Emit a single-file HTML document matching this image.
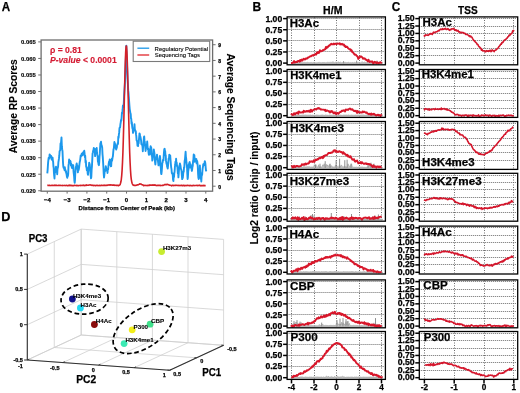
<!DOCTYPE html>
<html><head><meta charset="utf-8"><style>
html,body{margin:0;padding:0;background:#fff;width:520px;height:393px;overflow:hidden;}
svg{display:block;}
text{font-family:"Liberation Sans", sans-serif;}
svg{will-change:transform;}

</style></head><body>
<svg width="520" height="393" viewBox="0 0 520 393" font-family='"Liberation Sans", sans-serif'>
<rect width="520" height="393" fill="#fff"/>
<rect x="41.1" y="40.0" width="171.50" height="151.20" fill="none" stroke="#6e6e6e" stroke-width="1.3"/>
<line x1="38.20" y1="41.90" x2="41.10" y2="41.90" stroke="#6e6e6e" stroke-width="1"/>
<text x="21.07" y="44.20" font-size="5.0" stroke="#000" stroke-width="0.12" font-weight="bold" textLength="14.59" lengthAdjust="spacingAndGlyphs">0.065</text>
<line x1="38.20" y1="58.44" x2="41.10" y2="58.44" stroke="#6e6e6e" stroke-width="1"/>
<text x="21.07" y="60.74" font-size="5.0" stroke="#000" stroke-width="0.12" font-weight="bold" textLength="14.67" lengthAdjust="spacingAndGlyphs">0.060</text>
<line x1="38.20" y1="74.98" x2="41.10" y2="74.98" stroke="#6e6e6e" stroke-width="1"/>
<text x="21.07" y="77.28" font-size="5.0" stroke="#000" stroke-width="0.12" font-weight="bold" textLength="14.59" lengthAdjust="spacingAndGlyphs">0.055</text>
<line x1="38.20" y1="91.52" x2="41.10" y2="91.52" stroke="#6e6e6e" stroke-width="1"/>
<text x="21.07" y="93.82" font-size="5.0" stroke="#000" stroke-width="0.12" font-weight="bold" textLength="14.67" lengthAdjust="spacingAndGlyphs">0.050</text>
<line x1="38.20" y1="108.06" x2="41.10" y2="108.06" stroke="#6e6e6e" stroke-width="1"/>
<text x="21.07" y="110.36" font-size="5.0" stroke="#000" stroke-width="0.12" font-weight="bold" textLength="14.59" lengthAdjust="spacingAndGlyphs">0.045</text>
<line x1="38.20" y1="124.60" x2="41.10" y2="124.60" stroke="#6e6e6e" stroke-width="1"/>
<text x="21.07" y="126.90" font-size="5.0" stroke="#000" stroke-width="0.12" font-weight="bold" textLength="14.67" lengthAdjust="spacingAndGlyphs">0.040</text>
<line x1="38.20" y1="141.14" x2="41.10" y2="141.14" stroke="#6e6e6e" stroke-width="1"/>
<text x="21.07" y="143.44" font-size="5.0" stroke="#000" stroke-width="0.12" font-weight="bold" textLength="14.59" lengthAdjust="spacingAndGlyphs">0.035</text>
<line x1="38.20" y1="157.68" x2="41.10" y2="157.68" stroke="#6e6e6e" stroke-width="1"/>
<text x="21.07" y="159.98" font-size="5.0" stroke="#000" stroke-width="0.12" font-weight="bold" textLength="14.67" lengthAdjust="spacingAndGlyphs">0.030</text>
<line x1="38.20" y1="174.22" x2="41.10" y2="174.22" stroke="#6e6e6e" stroke-width="1"/>
<text x="21.07" y="176.52" font-size="5.0" stroke="#000" stroke-width="0.12" font-weight="bold" textLength="14.59" lengthAdjust="spacingAndGlyphs">0.025</text>
<line x1="38.20" y1="190.76" x2="41.10" y2="190.76" stroke="#6e6e6e" stroke-width="1"/>
<text x="21.07" y="193.06" font-size="5.0" stroke="#000" stroke-width="0.12" font-weight="bold" textLength="14.67" lengthAdjust="spacingAndGlyphs">0.020</text>
<line x1="212.60" y1="186.20" x2="215.60" y2="186.20" stroke="#6e6e6e" stroke-width="1"/>
<text x="218.20" y="188.60" font-size="5.0" stroke="#000" stroke-width="0.25" font-weight="bold">0</text>
<line x1="212.60" y1="170.48" x2="215.60" y2="170.48" stroke="#6e6e6e" stroke-width="1"/>
<text x="218.20" y="172.88" font-size="5.0" stroke="#000" stroke-width="0.25" font-weight="bold">1</text>
<line x1="212.60" y1="154.76" x2="215.60" y2="154.76" stroke="#6e6e6e" stroke-width="1"/>
<text x="218.20" y="157.16" font-size="5.0" stroke="#000" stroke-width="0.25" font-weight="bold">2</text>
<line x1="212.60" y1="139.04" x2="215.60" y2="139.04" stroke="#6e6e6e" stroke-width="1"/>
<text x="218.20" y="141.44" font-size="5.0" stroke="#000" stroke-width="0.25" font-weight="bold">3</text>
<line x1="212.60" y1="123.32" x2="215.60" y2="123.32" stroke="#6e6e6e" stroke-width="1"/>
<text x="218.20" y="125.72" font-size="5.0" stroke="#000" stroke-width="0.25" font-weight="bold">4</text>
<line x1="212.60" y1="107.60" x2="215.60" y2="107.60" stroke="#6e6e6e" stroke-width="1"/>
<text x="218.20" y="110.00" font-size="5.0" stroke="#000" stroke-width="0.25" font-weight="bold">5</text>
<line x1="212.60" y1="91.88" x2="215.60" y2="91.88" stroke="#6e6e6e" stroke-width="1"/>
<text x="218.20" y="94.28" font-size="5.0" stroke="#000" stroke-width="0.25" font-weight="bold">6</text>
<line x1="212.60" y1="76.16" x2="215.60" y2="76.16" stroke="#6e6e6e" stroke-width="1"/>
<text x="218.20" y="78.56" font-size="5.0" stroke="#000" stroke-width="0.25" font-weight="bold">7</text>
<line x1="212.60" y1="60.44" x2="215.60" y2="60.44" stroke="#6e6e6e" stroke-width="1"/>
<text x="218.20" y="62.84" font-size="5.0" stroke="#000" stroke-width="0.25" font-weight="bold">8</text>
<line x1="212.60" y1="44.72" x2="215.60" y2="44.72" stroke="#6e6e6e" stroke-width="1"/>
<text x="218.20" y="47.12" font-size="5.0" stroke="#000" stroke-width="0.25" font-weight="bold">9</text>
<line x1="47.30" y1="191.20" x2="47.30" y2="193.60" stroke="#6e6e6e" stroke-width="1"/>
<text x="47.30" y="202.20" font-size="6.0" stroke="#000" stroke-width="0.25" font-weight="bold" text-anchor="middle">−4</text>
<line x1="67.11" y1="191.20" x2="67.11" y2="193.60" stroke="#6e6e6e" stroke-width="1"/>
<text x="67.11" y="202.20" font-size="6.0" stroke="#000" stroke-width="0.25" font-weight="bold" text-anchor="middle">−3</text>
<line x1="86.92" y1="191.20" x2="86.92" y2="193.60" stroke="#6e6e6e" stroke-width="1"/>
<text x="86.92" y="202.20" font-size="6.0" stroke="#000" stroke-width="0.25" font-weight="bold" text-anchor="middle">−2</text>
<line x1="106.73" y1="191.20" x2="106.73" y2="193.60" stroke="#6e6e6e" stroke-width="1"/>
<text x="106.73" y="202.20" font-size="6.0" stroke="#000" stroke-width="0.25" font-weight="bold" text-anchor="middle">−1</text>
<line x1="126.54" y1="191.20" x2="126.54" y2="193.60" stroke="#6e6e6e" stroke-width="1"/>
<text x="126.54" y="202.20" font-size="6.0" stroke="#000" stroke-width="0.25" font-weight="bold" text-anchor="middle">0</text>
<line x1="146.35" y1="191.20" x2="146.35" y2="193.60" stroke="#6e6e6e" stroke-width="1"/>
<text x="146.35" y="202.20" font-size="6.0" stroke="#000" stroke-width="0.25" font-weight="bold" text-anchor="middle">1</text>
<line x1="166.16" y1="191.20" x2="166.16" y2="193.60" stroke="#6e6e6e" stroke-width="1"/>
<text x="166.16" y="202.20" font-size="6.0" stroke="#000" stroke-width="0.25" font-weight="bold" text-anchor="middle">2</text>
<line x1="185.97" y1="191.20" x2="185.97" y2="193.60" stroke="#6e6e6e" stroke-width="1"/>
<text x="185.97" y="202.20" font-size="6.0" stroke="#000" stroke-width="0.25" font-weight="bold" text-anchor="middle">3</text>
<line x1="205.78" y1="191.20" x2="205.78" y2="193.60" stroke="#6e6e6e" stroke-width="1"/>
<text x="205.78" y="202.20" font-size="6.0" stroke="#000" stroke-width="0.25" font-weight="bold" text-anchor="middle">4</text>
<text x="78.60" y="210.20" font-size="6.0" stroke="#000" stroke-width="0.25" font-weight="bold" textLength="96.40" lengthAdjust="spacingAndGlyphs">Distance from Center of Peak (kb)</text>
<text x="17.00" y="153.15" font-size="10" stroke="#000" stroke-width="0.1" font-weight="bold" textLength="93.77" lengthAdjust="spacingAndGlyphs" transform="rotate(-90 17.00 153.15)">Average RP Scores</text>
<text x="226.60" y="53.55" font-size="10" stroke="#000" stroke-width="0.1" font-weight="bold" textLength="127.07" lengthAdjust="spacingAndGlyphs" transform="rotate(90 226.60 53.55)">Average Sequencing Tags</text>
<polyline points="47.30,173.40 47.57,170.62 47.85,166.54 48.12,162.39 48.40,159.82 48.70,157.69 49.00,157.94 49.30,158.54 49.60,154.46 49.90,154.71 50.20,156.81 50.50,157.06 50.80,157.12 51.10,156.00 51.40,157.98 51.70,159.68 52.00,157.24 52.30,159.19 52.60,157.65 52.87,160.60 53.13,161.80 53.40,166.25 53.67,167.75 53.95,173.11 54.23,175.99 54.50,178.52 54.80,172.35 55.10,172.64 55.40,170.70 55.70,168.27 56.00,166.72 56.30,169.22 56.60,169.39 56.90,170.57 57.20,174.29 57.50,169.05 57.80,167.77 58.10,166.71 58.40,162.06 58.70,160.33 59.00,158.23 59.30,155.72 59.60,151.34 59.90,150.85 60.20,150.34 60.53,143.50 60.85,144.64 61.17,141.05 61.50,137.44 61.83,146.23 62.17,149.21 62.50,151.10 62.77,157.58 63.03,162.90 63.30,166.32 63.60,167.92 63.90,167.10 64.20,168.50 64.50,169.96 64.80,167.09 65.10,169.62 65.40,169.85 65.70,171.95 66.00,171.20 66.30,173.33 66.62,174.53 66.94,176.79 67.26,177.78 67.58,174.69 67.90,176.11 68.20,173.87 68.50,165.51 68.80,163.41 69.10,159.55 69.40,162.05 69.70,161.65 70.00,160.59 70.30,160.99 70.60,161.62 70.90,165.51 71.20,163.80 71.50,165.20 71.80,167.41 72.10,167.92 72.38,167.23 72.65,165.28 72.92,166.36 73.20,165.13 73.50,171.07 73.80,173.82 74.10,176.32 74.40,180.88 74.70,182.89 74.97,180.38 75.23,174.19 75.50,170.48 75.80,166.90 76.10,168.60 76.40,164.79 76.70,163.51 77.00,165.34 77.30,165.53 77.60,168.21 77.90,172.41 78.20,168.87 78.50,170.26 78.82,169.21 79.13,167.34 79.45,164.04 79.77,161.69 80.08,160.75 80.40,158.18 80.72,155.35 81.03,156.28 81.35,155.95 81.67,153.82 81.98,155.29 82.30,153.11 82.62,155.40 82.94,153.77 83.26,153.15 83.58,151.67 83.90,151.92 84.23,150.64 84.57,153.47 84.90,157.24 85.22,155.79 85.54,162.53 85.86,160.92 86.18,166.96 86.50,166.83 86.80,170.19 87.10,170.14 87.40,168.55 87.70,173.65 88.00,174.86 88.30,170.46 88.60,168.01 88.90,166.04 89.20,162.68 89.50,163.65 89.80,164.85 90.10,169.24 90.40,171.79 90.70,175.70 91.00,178.38 91.32,177.01 91.64,169.71 91.96,166.21 92.28,159.60 92.60,153.36 92.90,152.43 93.20,150.61 93.50,149.99 93.80,147.94 94.12,149.33 94.45,148.98 94.77,151.11 95.10,156.08 95.42,151.02 95.75,148.87 96.08,149.38 96.40,149.41 96.70,147.97 97.00,152.69 97.30,154.90 97.60,156.06 97.92,161.70 98.25,162.46 98.58,164.51 98.90,165.17 99.20,162.75 99.50,157.02 99.80,153.39 100.10,147.70 100.40,143.31 100.70,142.90 101.00,141.66 101.30,144.38 101.60,145.41 101.90,146.32 102.20,147.74 102.50,154.11 102.80,157.38 103.10,162.27 103.40,167.20 103.70,173.60 104.00,177.52 104.30,175.37 104.60,172.25 104.90,169.33 105.20,171.12 105.50,169.45 105.80,166.09 106.09,167.84 106.37,168.93 106.66,169.73 106.94,170.60 107.23,169.26 107.51,172.94 107.80,169.53 108.12,169.52 108.45,165.79 108.77,163.19 109.10,161.52 109.40,162.19 109.70,159.52 110.00,159.97 110.30,164.99 110.60,163.51 110.90,166.28 111.19,166.12 111.47,160.95 111.76,158.81 112.04,160.92 112.33,159.15 112.61,157.27 112.90,156.26 113.20,152.58 113.50,149.26 113.80,148.95 114.10,145.41 114.40,142.07 114.70,142.96 115.00,143.89 115.30,146.37 115.60,146.06 115.90,148.33 116.20,149.60 116.50,148.07 116.80,147.99 117.10,144.83 117.40,144.83 117.70,143.11 118.00,143.94 118.30,136.69 118.60,138.00 118.90,134.42 119.20,132.41 119.50,128.14 119.80,127.51 120.10,127.39 120.40,124.23 120.70,122.55 121.00,120.06 121.32,120.71 121.64,117.43 121.96,112.64 122.28,113.38 122.60,109.95 122.90,105.47 123.20,107.00 123.50,107.25 123.80,102.77 124.12,95.27 124.45,89.94 124.77,85.67 125.10,80.00 125.40,71.40 125.70,62.80 126.00,54.20 126.30,45.60 126.62,54.20 126.95,62.80 127.27,71.40 127.60,80.00 127.90,84.22 128.20,90.13 128.50,92.89 128.80,96.94 129.10,101.00 129.40,105.36 129.72,109.03 130.05,111.18 130.38,113.20 130.70,113.84 130.99,118.35 131.27,118.75 131.56,123.60 131.84,122.24 132.13,126.12 132.41,128.50 132.70,128.71 133.00,132.87 133.30,132.06 133.60,128.75 133.90,130.19 134.20,129.18 134.50,124.28 134.83,129.51 135.17,129.97 135.50,131.12 135.78,131.28 136.05,134.40 136.32,136.43 136.60,140.38 136.90,140.72 137.20,141.83 137.50,145.75 137.80,144.25 138.10,146.12 138.38,141.11 138.66,143.33 138.94,139.57 139.22,136.64 139.50,133.40 139.82,134.21 140.14,136.00 140.46,136.94 140.78,138.65 141.10,140.68 141.38,144.23 141.67,144.17 141.95,144.61 142.23,145.20 142.52,146.48 142.80,151.20 143.08,147.10 143.36,143.98 143.64,140.90 143.92,137.30 144.20,136.40 144.48,140.67 144.76,141.63 145.04,144.74 145.32,147.61 145.60,150.96 145.92,146.79 146.24,147.21 146.56,144.66 146.88,145.65 147.20,141.54 147.48,145.60 147.77,149.05 148.05,148.33 148.33,149.93 148.62,153.15 148.90,154.90 149.19,152.24 149.47,153.25 149.76,154.41 150.04,149.83 150.33,148.74 150.61,146.30 150.90,147.18 151.18,147.29 151.46,149.96 151.74,156.00 152.02,155.18 152.30,160.62 152.60,159.45 152.90,155.71 153.20,154.31 153.50,154.57 153.80,149.50 154.12,151.57 154.44,153.09 154.76,157.84 155.08,162.66 155.40,164.54 155.72,160.05 156.04,158.54 156.36,157.42 156.68,156.98 157.00,154.59 157.30,157.26 157.60,159.43 157.90,160.57 158.20,163.00 158.50,165.41 158.78,163.13 159.06,162.18 159.34,162.39 159.62,158.63 159.90,155.98 160.20,158.22 160.50,166.18 160.80,167.53 161.10,173.19 161.40,174.14 161.70,171.48 162.00,167.76 162.30,162.97 162.60,162.54 162.89,160.04 163.17,159.97 163.46,160.36 163.74,155.25 164.03,151.72 164.31,149.09 164.60,148.72 164.88,150.57 165.16,151.15 165.44,155.09 165.72,155.23 166.00,160.67 166.28,162.29 166.57,164.03 166.85,163.39 167.13,166.57 167.42,167.30 167.70,168.62 168.02,165.83 168.34,161.53 168.66,158.45 168.98,158.95 169.30,154.61 169.60,156.26 169.90,158.47 170.20,155.40 170.52,159.75 170.85,164.11 171.18,167.36 171.50,169.13 171.82,173.03 172.13,173.58 172.45,173.23 172.77,175.44 173.08,179.82 173.40,181.10 173.70,174.88 174.00,177.07 174.30,173.27 174.60,171.72 174.90,166.98 175.20,164.98 175.50,161.59 175.80,164.95 176.10,158.74 176.40,163.68 176.70,162.63 177.00,166.15 177.30,165.69 177.58,169.53 177.85,173.48 178.12,172.02 178.40,177.41 178.70,173.87 179.00,169.35 179.30,167.73 179.60,165.35 179.90,163.53 180.22,164.62 180.54,166.00 180.86,168.60 181.18,169.34 181.50,170.77 181.83,175.19 182.17,179.16 182.50,178.11 182.80,177.97 183.10,174.55 183.40,171.61 183.70,171.92 184.00,167.42 184.32,167.39 184.64,160.91 184.96,159.60 185.28,155.62 185.60,151.77 185.90,156.83 186.20,158.77 186.50,162.95 186.80,165.03 187.07,168.07 187.33,174.15 187.60,178.98 187.90,177.28 188.20,171.42 188.50,169.66 188.80,164.08 189.10,164.58 189.40,162.58 189.70,162.09 190.00,165.31 190.30,167.66 190.60,164.31 190.90,165.89 191.20,167.33 191.50,167.67 191.80,170.85 192.10,169.99 192.42,167.08 192.74,165.99 193.06,160.95 193.38,159.69 193.70,154.54 194.03,155.18 194.37,155.25 194.70,161.79 195.02,158.52 195.34,159.37 195.66,158.95 195.98,159.24 196.30,159.07 196.60,163.39 196.90,160.49 197.20,161.24 197.50,163.58 197.80,166.92 198.10,173.87 198.40,177.81 198.70,178.96 199.00,175.64 199.30,174.52 199.60,174.46 199.90,165.47 200.18,172.93 200.46,172.97 200.74,178.58 201.02,177.84 201.30,181.47 201.58,176.59 201.85,174.33 202.12,174.83 202.40,170.93 202.70,168.18 203.00,166.55 203.30,164.10 203.60,165.43 203.90,165.05 204.20,164.22 204.50,163.46 204.80,161.17 205.10,162.00 205.40,163.94 205.70,167.84 206.00,170.60 206.30,169.70" fill="none" stroke="#1c98ec" stroke-width="1.9" stroke-linejoin="round"/>
<polyline points="47.30,185.48 47.70,185.39 48.10,185.49 48.50,185.41 48.90,185.39 49.30,185.49 49.70,185.34 50.10,185.59 50.50,185.48 50.90,185.54 51.30,185.47 51.70,185.39 52.10,185.36 52.50,185.46 52.90,185.42 53.30,185.54 53.70,185.50 54.10,185.30 54.50,185.51 54.90,185.30 55.30,185.41 55.70,185.46 56.10,185.19 56.50,185.51 56.90,185.52 57.30,185.48 57.70,185.44 58.10,185.44 58.50,185.35 58.90,185.46 59.30,185.42 59.70,185.51 60.10,185.32 60.50,185.54 60.90,185.52 61.30,185.48 61.70,185.43 62.10,185.58 62.50,185.25 62.90,185.57 63.30,185.54 63.70,185.54 64.10,185.56 64.50,185.40 64.90,185.46 65.30,185.60 65.70,185.56 66.10,185.53 66.50,185.27 66.90,185.58 67.30,185.68 67.70,185.65 68.10,185.54 68.50,185.27 68.90,185.64 69.30,185.48 69.70,185.12 70.10,185.56 70.50,185.28 70.90,185.31 71.30,185.40 71.70,185.69 72.10,185.44 72.50,185.54 72.90,185.76 73.30,185.74 73.70,185.48 74.10,185.46 74.50,185.31 74.90,185.40 75.30,185.56 75.70,185.56 76.10,185.52 76.50,185.65 76.90,185.38 77.30,185.49 77.70,185.61 78.10,185.59 78.50,185.66 78.90,185.56 79.30,185.45 79.70,185.55 80.10,185.35 80.50,185.25 80.90,185.59 81.30,185.49 81.70,185.55 82.10,185.24 82.50,185.44 82.90,185.41 83.30,185.36 83.70,185.15 84.10,185.43 84.50,185.60 84.90,185.51 85.30,185.33 85.70,185.39 86.10,185.46 86.50,184.88 86.90,185.21 87.30,185.25 87.70,185.20 88.10,185.29 88.50,185.15 88.90,184.98 89.30,184.95 89.70,185.02 90.10,184.84 90.50,184.95 90.90,185.14 91.30,185.36 91.70,185.11 92.10,185.19 92.50,185.29 92.90,185.52 93.30,185.36 93.70,185.63 94.10,185.29 94.50,185.43 94.90,185.44 95.30,185.60 95.70,185.65 96.10,185.27 96.50,185.36 96.90,185.55 97.30,185.40 97.70,185.27 98.10,185.65 98.50,185.57 98.90,185.57 99.30,185.42 99.70,185.65 100.10,185.45 100.50,185.65 100.90,185.35 101.30,185.35 101.70,185.50 102.10,185.35 102.50,185.55 102.90,185.47 103.30,185.28 103.70,185.41 104.10,185.32 104.50,185.49 104.90,185.23 105.30,185.23 105.70,185.44 106.10,185.56 106.50,185.49 106.90,185.17 107.30,185.16 107.70,185.33 108.10,185.05 108.50,184.90 108.90,185.04 109.30,185.08 109.70,184.88 110.10,184.75 110.50,184.79 110.90,185.12 111.30,184.92 111.70,185.03 112.10,185.11 112.50,185.20 112.90,185.09 113.30,185.25 113.70,185.08 114.10,185.19 114.50,185.12 114.90,185.48 115.30,185.33 115.70,185.25 116.10,185.33 116.50,185.37 116.90,185.53 117.30,185.20 117.70,185.28 118.10,185.38 118.50,185.78 118.90,185.47 119.30,185.16 119.70,184.99 120.10,184.65 120.50,183.37 120.90,181.78 121.30,179.52 121.70,175.62 122.10,170.15 122.50,162.38 122.90,152.76 123.30,140.27 123.70,125.40 124.10,109.10 124.50,91.75 124.90,75.94 125.30,61.83 125.70,51.63 126.10,46.20 126.50,46.05 126.90,51.31 127.30,61.92 127.70,75.73 128.10,92.01 128.50,108.90 128.90,125.27 129.30,139.67 129.70,152.65 130.10,162.50 130.50,170.22 130.90,175.85 131.30,179.35 131.70,181.57 132.10,183.28 132.50,184.17 132.90,184.82 133.30,185.20 133.70,185.05 134.10,185.48 134.50,185.23 134.90,185.51 135.30,185.43 135.70,185.37 136.10,185.35 136.50,185.19 136.90,185.06 137.30,184.75 137.70,184.81 138.10,184.88 138.50,184.68 138.90,184.38 139.30,184.13 139.70,183.82 140.10,184.12 140.50,183.95 140.90,184.08 141.30,184.24 141.70,184.51 142.10,184.64 142.50,184.90 142.90,184.92 143.30,185.16 143.70,185.66 144.10,185.37 144.50,185.39 144.90,185.53 145.30,185.56 145.70,185.29 146.10,185.42 146.50,185.58 146.90,185.46 147.30,185.42 147.70,185.61 148.10,185.24 148.50,185.33 148.90,185.20 149.30,185.47 149.70,184.92 150.10,185.08 150.50,185.07 150.90,185.23 151.30,185.20 151.70,185.31 152.10,184.86 152.50,185.22 152.90,185.08 153.30,185.04 153.70,185.25 154.10,185.06 154.50,184.92 154.90,185.21 155.30,185.07 155.70,185.23 156.10,185.42 156.50,185.43 156.90,185.65 157.30,185.40 157.70,185.22 158.10,185.35 158.50,185.33 158.90,185.30 159.30,185.55 159.70,185.39 160.10,185.19 160.50,185.58 160.90,185.45 161.30,185.50 161.70,185.44 162.10,185.48 162.50,185.34 162.90,185.45 163.30,185.24 163.70,185.14 164.10,185.03 164.50,184.64 164.90,184.72 165.30,184.61 165.70,184.60 166.10,184.31 166.50,184.75 166.90,184.53 167.30,184.39 167.70,184.39 168.10,184.71 168.50,184.85 168.90,184.86 169.30,185.10 169.70,185.08 170.10,185.35 170.50,185.22 170.90,185.38 171.30,185.57 171.70,185.84 172.10,185.32 172.50,185.41 172.90,185.36 173.30,185.61 173.70,185.32 174.10,185.43 174.50,185.49 174.90,185.35 175.30,185.36 175.70,185.43 176.10,185.18 176.50,185.28 176.90,185.44 177.30,185.52 177.70,185.47 178.10,185.23 178.50,185.43 178.90,185.62 179.30,185.58 179.70,185.49 180.10,185.37 180.50,185.59 180.90,185.41 181.30,185.32 181.70,185.38 182.10,185.72 182.50,185.53 182.90,185.67 183.30,185.43 183.70,185.64 184.10,185.41 184.50,185.48 184.90,185.87 185.30,185.62 185.70,185.42 186.10,185.49 186.50,185.55 186.90,185.68 187.30,185.43 187.70,185.24 188.10,185.46 188.50,185.50 188.90,185.52 189.30,185.70 189.70,185.55 190.10,185.62 190.50,185.33 190.90,185.63 191.30,185.81 191.70,185.62 192.10,185.54 192.50,185.52 192.90,185.77 193.30,185.36 193.70,185.48 194.10,185.57 194.50,185.61 194.90,185.43 195.30,185.55 195.70,185.46 196.10,185.52 196.50,185.48 196.90,185.33 197.30,185.50 197.70,185.63 198.10,185.35 198.50,185.46 198.90,185.60 199.30,185.34 199.70,185.53 200.10,185.34 200.50,185.67 200.90,185.85 201.30,185.80 201.70,185.47 202.10,185.61 202.50,185.52 202.90,185.52 203.30,185.73 203.70,185.30 204.10,185.66 204.50,185.49 204.90,185.71 205.30,185.53 205.70,185.40" fill="none" stroke="#d42028" stroke-width="1.6" stroke-linejoin="round"/>
<rect x="133.2" y="41.2" width="76.5" height="20.3" fill="#fff" stroke="#7a7a7a" stroke-width="1.1"/>
<line x1="137.40" y1="48.20" x2="149.20" y2="48.20" stroke="#1a96e8" stroke-width="1.3"/>
<line x1="137.40" y1="55.00" x2="149.20" y2="55.00" stroke="#e0262c" stroke-width="1.3"/>
<text x="154.61" y="50.70" font-size="6.0" stroke="#000" stroke-width="0.1" textLength="53.59" lengthAdjust="spacingAndGlyphs">Regulatory Potential</text>
<text x="154.84" y="57.20" font-size="6.0" stroke="#000" stroke-width="0.1" textLength="45.07" lengthAdjust="spacingAndGlyphs">Sequencing Tags</text>
<text x="50.00" y="52.70" font-size="8.6" stroke="#d41c34" stroke-width="0.15" font-weight="bold" fill="#d41c34" textLength="31.80" lengthAdjust="spacingAndGlyphs">ρ = 0.81</text>
<text x="50.00" y="62.60" font-size="8.6" font-weight="bold" fill="#d41c34" stroke="#d41c34" stroke-width="0.15"><tspan font-style="italic">P-value</tspan> &lt; 0.0001</text>
<text x="1.81" y="10.70" font-size="12.5" stroke="#000" stroke-width="0.25" font-weight="bold" textLength="8.40" lengthAdjust="spacingAndGlyphs">A</text>
<text x="1.35" y="220.60" font-size="12.5" stroke="#000" stroke-width="0.25" font-weight="bold" textLength="9.18" lengthAdjust="spacingAndGlyphs">D</text>
<text x="252.40" y="10.80" font-size="12.5" stroke="#000" stroke-width="0.25" font-weight="bold" textLength="8.64" lengthAdjust="spacingAndGlyphs">B</text>
<text x="391.72" y="10.80" font-size="12.5" stroke="#000" stroke-width="0.25" font-weight="bold" textLength="8.51" lengthAdjust="spacingAndGlyphs">C</text>
<text x="323.10" y="13.80" font-size="10.5" stroke="#000" stroke-width="0.25" font-weight="bold" textLength="19.31" lengthAdjust="spacingAndGlyphs">H/M</text>
<text x="458.09" y="13.80" font-size="10.5" stroke="#000" stroke-width="0.25" font-weight="bold" textLength="19.50" lengthAdjust="spacingAndGlyphs">TSS</text>
<line x1="288.60" y1="18.50" x2="384.40" y2="18.50" stroke="#6c6c6c" stroke-width="1" stroke-dasharray="1 1"/>
<line x1="288.60" y1="29.50" x2="384.40" y2="29.50" stroke="#6c6c6c" stroke-width="1" stroke-dasharray="1 1"/>
<line x1="288.60" y1="40.50" x2="384.40" y2="40.50" stroke="#6c6c6c" stroke-width="1" stroke-dasharray="1 1"/>
<line x1="288.60" y1="51.50" x2="384.40" y2="51.50" stroke="#6c6c6c" stroke-width="1" stroke-dasharray="1 1"/>
<line x1="291.50" y1="17.50" x2="291.50" y2="63.80" stroke="#6c6c6c" stroke-width="1" stroke-dasharray="1 1.5"/>
<line x1="314.50" y1="17.50" x2="314.50" y2="63.80" stroke="#6c6c6c" stroke-width="1" stroke-dasharray="1 1.5"/>
<line x1="336.50" y1="17.50" x2="336.50" y2="63.80" stroke="#6c6c6c" stroke-width="1" stroke-dasharray="1 1.5"/>
<line x1="359.50" y1="17.50" x2="359.50" y2="63.80" stroke="#6c6c6c" stroke-width="1" stroke-dasharray="1 1.5"/>
<line x1="381.50" y1="17.50" x2="381.50" y2="63.80" stroke="#6c6c6c" stroke-width="1" stroke-dasharray="1 1.5"/>
<line x1="283.10" y1="18.60" x2="287.10" y2="18.60" stroke="#000" stroke-width="1.5"/>
<text x="282.20" y="21.50" font-size="8.3" stroke="#000" stroke-width="0.25" font-weight="bold" text-anchor="end" textLength="16.80" lengthAdjust="spacingAndGlyphs">1.00</text>
<line x1="283.10" y1="29.72" x2="287.10" y2="29.72" stroke="#000" stroke-width="1.5"/>
<text x="282.20" y="32.62" font-size="8.3" stroke="#000" stroke-width="0.25" font-weight="bold" text-anchor="end" textLength="16.80" lengthAdjust="spacingAndGlyphs">0.75</text>
<line x1="283.10" y1="40.85" x2="287.10" y2="40.85" stroke="#000" stroke-width="1.5"/>
<text x="282.20" y="43.75" font-size="8.3" stroke="#000" stroke-width="0.25" font-weight="bold" text-anchor="end" textLength="16.80" lengthAdjust="spacingAndGlyphs">0.50</text>
<line x1="283.10" y1="51.97" x2="287.10" y2="51.97" stroke="#000" stroke-width="1.5"/>
<text x="282.20" y="54.87" font-size="8.3" stroke="#000" stroke-width="0.25" font-weight="bold" text-anchor="end" textLength="16.80" lengthAdjust="spacingAndGlyphs">0.25</text>
<line x1="283.10" y1="63.10" x2="287.10" y2="63.10" stroke="#000" stroke-width="1.5"/>
<text x="282.20" y="66.00" font-size="8.3" stroke="#000" stroke-width="0.25" font-weight="bold" text-anchor="end" textLength="16.80" lengthAdjust="spacingAndGlyphs">0.00</text>
<path d="M291.3 63.50 L291.30 62.32 L292.00 62.70 L292.70 62.39 L293.40 62.73 L294.10 62.54 L294.80 62.73 L295.50 62.46 L296.20 62.38 L296.90 62.59 L297.60 62.32 L298.30 62.39 L299.00 62.63 L299.70 62.51 L300.40 62.42 L301.10 62.39 L301.80 62.33 L302.50 62.73 L303.20 62.43 L303.90 62.73 L304.60 62.35 L305.30 62.69 L306.00 62.37 L306.70 62.65 L307.40 62.32 L308.10 62.54 L308.80 62.64 L309.50 62.66 L310.20 62.50 L310.90 62.63 L311.60 62.46 L312.30 62.72 L313.00 62.68 L313.70 62.37 L314.40 62.50 L315.10 62.67 L315.80 62.73 L316.50 62.73 L317.20 62.68 L317.90 62.61 L318.60 62.48 L319.30 62.38 L320.00 62.41 L320.70 62.63 L321.40 62.73 L322.10 62.57 L322.80 62.58 L323.50 62.51 L324.20 62.61 L324.90 62.48 L325.60 62.74 L326.30 62.68 L327.00 62.42 L327.70 62.31 L328.40 62.40 L329.10 62.38 L329.80 62.40 L330.50 62.29 L331.20 62.43 L331.90 62.12 L332.60 61.93 L333.30 61.96 L334.00 62.37 L334.70 62.77 L335.40 62.22 L336.10 61.98 L336.80 62.59 L337.50 62.38 L338.20 62.04 L338.90 62.10 L339.60 62.53 L340.30 62.10 L341.00 62.63 L341.70 62.66 L342.40 62.57 L343.10 62.46 L343.80 62.46 L344.50 62.54 L345.20 62.57 L345.90 62.23 L346.60 62.64 L347.30 62.71 L348.00 62.04 L348.70 62.48 L349.40 62.77 L350.10 62.48 L350.80 62.66 L351.50 62.71 L352.20 62.56 L352.90 62.62 L353.60 62.75 L354.30 62.45 L355.00 62.40 L355.70 62.78 L356.40 62.49 L357.10 62.68 L357.80 62.59 L358.50 62.40 L359.20 62.53 L359.90 62.79 L360.60 62.79 L361.30 62.19 L362.00 62.35 L362.70 61.90 L363.40 62.58 L364.10 61.88 L364.80 62.37 L365.50 62.61 L366.20 62.52 L366.90 62.65 L367.60 62.38 L368.30 61.67 L369.00 62.63 L369.70 62.40 L370.40 61.89 L371.10 62.71 L371.80 62.68 L372.50 61.65 L373.20 62.19 L373.90 62.66 L374.60 61.64 L375.30 62.49 L376.00 62.31 L376.70 62.32 L377.40 62.41 L378.10 62.61 L378.80 62.21 L379.50 62.74 L380.20 62.38 L380.90 62.36 L381.60 62.61 L382.30 62.44 L382.5 63.50 Z" fill="#c6c6c6" stroke="#9c9c9c" stroke-width="0.6" stroke-linejoin="round"/>
<path d="M343.60 63.40V61.10 M356.70 63.40V60.60 M377.00 63.40V60.60" stroke="#8e8e8e" stroke-width="1.0" fill="none"/>
<polyline points="291.10,63.05 291.70,63.17 292.30,62.65 292.90,62.76 293.50,62.07 294.10,61.05 294.70,62.58 295.30,62.33 295.90,61.90 296.50,61.72 297.10,62.11 297.70,61.16 298.30,60.88 298.90,61.03 299.50,61.65 300.10,60.01 300.70,61.20 301.30,59.97 301.90,59.49 302.50,60.56 303.10,59.59 303.70,58.70 304.30,58.99 304.90,59.48 305.50,59.40 306.10,58.28 306.70,58.51 307.30,58.44 307.90,57.40 308.50,57.65 309.10,57.13 309.70,56.56 310.30,56.28 310.90,56.29 311.50,55.97 312.10,55.34 312.70,55.12 313.30,55.64 313.90,54.81 314.50,54.83 315.10,54.67 315.70,53.99 316.30,54.57 316.90,52.53 317.50,53.08 318.10,52.12 318.70,52.98 319.30,52.62 319.90,50.34 320.50,50.62 321.10,51.26 321.70,51.06 322.30,50.77 322.90,50.06 323.50,50.09 324.10,49.93 324.70,49.20 325.30,49.33 325.90,47.05 326.50,48.17 327.10,46.77 327.70,47.39 328.30,46.27 328.90,45.43 329.50,45.71 330.10,44.71 330.70,44.42 331.30,43.76 331.90,44.32 332.50,44.31 333.10,44.31 333.70,43.62 334.30,44.28 334.90,43.71 335.50,43.65 336.10,44.02 336.70,44.28 337.30,43.51 337.90,43.57 338.50,43.61 339.10,43.76 339.70,43.34 340.30,44.51 340.90,43.84 341.50,44.42 342.10,43.83 342.70,44.59 343.30,44.72 343.90,44.44 344.50,46.25 345.10,45.80 345.70,47.03 346.30,47.04 346.90,46.60 347.50,47.21 348.10,48.23 348.70,48.61 349.30,49.18 349.90,49.58 350.50,49.33 351.10,50.79 351.70,50.29 352.30,52.33 352.90,52.34 353.50,52.96 354.10,53.85 354.70,54.73 355.30,54.41 355.90,54.84 356.50,55.81 357.10,55.88 357.70,57.07 358.30,58.92 358.90,57.13 359.50,57.74 360.10,56.30 360.70,56.89 361.30,56.46 361.90,56.99 362.50,57.73 363.10,58.78 363.70,58.32 364.30,58.67 364.90,58.46 365.50,59.62 366.10,59.46 366.70,60.36 367.30,60.18 367.90,61.46 368.50,59.71 369.10,60.94 369.70,61.88 370.30,61.51 370.90,61.49 371.50,61.86 372.10,61.32 372.70,62.23 373.30,63.58 373.90,62.95 374.50,61.78 375.10,61.99 375.70,62.33 376.30,63.18 376.90,62.25 377.50,62.40 378.10,63.35 378.70,63.41 379.30,62.79 379.90,62.44 380.50,62.27 381.10,62.80 381.70,62.02" fill="none" stroke="#d8162a" stroke-width="1.9" stroke-linejoin="round"/>
<rect x="287.1" y="16.9" width="98.30" height="47.9" fill="none" stroke="#000" stroke-width="1.3"/>
<text x="289.73" y="27.20" font-size="11" stroke="#000" stroke-width="0.25" font-weight="bold" textLength="29.30" lengthAdjust="spacingAndGlyphs">H3Ac</text>
<line x1="288.60" y1="71.50" x2="384.40" y2="71.50" stroke="#6c6c6c" stroke-width="1" stroke-dasharray="1 1"/>
<line x1="288.60" y1="82.50" x2="384.40" y2="82.50" stroke="#6c6c6c" stroke-width="1" stroke-dasharray="1 1"/>
<line x1="288.60" y1="93.50" x2="384.40" y2="93.50" stroke="#6c6c6c" stroke-width="1" stroke-dasharray="1 1"/>
<line x1="288.60" y1="104.50" x2="384.40" y2="104.50" stroke="#6c6c6c" stroke-width="1" stroke-dasharray="1 1"/>
<line x1="291.50" y1="70.50" x2="291.50" y2="116.40" stroke="#6c6c6c" stroke-width="1" stroke-dasharray="1 1.5"/>
<line x1="314.50" y1="70.50" x2="314.50" y2="116.40" stroke="#6c6c6c" stroke-width="1" stroke-dasharray="1 1.5"/>
<line x1="336.50" y1="70.50" x2="336.50" y2="116.40" stroke="#6c6c6c" stroke-width="1" stroke-dasharray="1 1.5"/>
<line x1="359.50" y1="70.50" x2="359.50" y2="116.40" stroke="#6c6c6c" stroke-width="1" stroke-dasharray="1 1.5"/>
<line x1="381.50" y1="70.50" x2="381.50" y2="116.40" stroke="#6c6c6c" stroke-width="1" stroke-dasharray="1 1.5"/>
<line x1="283.10" y1="71.20" x2="287.10" y2="71.20" stroke="#000" stroke-width="1.5"/>
<text x="282.20" y="74.10" font-size="8.3" stroke="#000" stroke-width="0.25" font-weight="bold" text-anchor="end" textLength="16.80" lengthAdjust="spacingAndGlyphs">1.00</text>
<line x1="283.10" y1="82.33" x2="287.10" y2="82.33" stroke="#000" stroke-width="1.5"/>
<text x="282.20" y="85.23" font-size="8.3" stroke="#000" stroke-width="0.25" font-weight="bold" text-anchor="end" textLength="16.80" lengthAdjust="spacingAndGlyphs">0.75</text>
<line x1="283.10" y1="93.45" x2="287.10" y2="93.45" stroke="#000" stroke-width="1.5"/>
<text x="282.20" y="96.35" font-size="8.3" stroke="#000" stroke-width="0.25" font-weight="bold" text-anchor="end" textLength="16.80" lengthAdjust="spacingAndGlyphs">0.50</text>
<line x1="283.10" y1="104.58" x2="287.10" y2="104.58" stroke="#000" stroke-width="1.5"/>
<text x="282.20" y="107.48" font-size="8.3" stroke="#000" stroke-width="0.25" font-weight="bold" text-anchor="end" textLength="16.80" lengthAdjust="spacingAndGlyphs">0.25</text>
<line x1="283.10" y1="115.70" x2="287.10" y2="115.70" stroke="#000" stroke-width="1.5"/>
<text x="282.20" y="118.60" font-size="8.3" stroke="#000" stroke-width="0.25" font-weight="bold" text-anchor="end" textLength="16.80" lengthAdjust="spacingAndGlyphs">0.00</text>
<path d="M291.3 116.10 L291.30 115.34 L292.00 115.15 L292.70 115.10 L293.40 115.39 L294.10 115.33 L294.80 114.94 L295.50 115.36 L296.20 115.34 L296.90 114.93 L297.60 115.09 L298.30 115.22 L299.00 115.14 L299.70 115.07 L300.40 115.26 L301.10 115.33 L301.80 115.01 L302.50 114.94 L303.20 115.00 L303.90 114.99 L304.60 115.13 L305.30 114.91 L306.00 115.21 L306.70 115.12 L307.40 115.16 L308.10 115.22 L308.80 115.10 L309.50 115.18 L310.20 115.00 L310.90 114.97 L311.60 115.34 L312.30 115.11 L313.00 115.26 L313.70 115.36 L314.40 114.95 L315.10 115.19 L315.80 115.33 L316.50 115.06 L317.20 115.29 L317.90 114.95 L318.60 115.27 L319.30 115.38 L320.00 115.16 L320.70 115.23 L321.40 115.10 L322.10 114.95 L322.80 115.05 L323.50 115.22 L324.20 115.36 L324.90 115.32 L325.60 114.90 L326.30 115.17 L327.00 115.05 L327.70 115.33 L328.40 115.38 L329.10 114.98 L329.80 115.10 L330.50 115.12 L331.20 115.24 L331.90 115.00 L332.60 115.14 L333.30 115.39 L334.00 114.98 L334.70 115.17 L335.40 115.15 L336.10 115.03 L336.80 115.30 L337.50 115.03 L338.20 115.10 L338.90 114.95 L339.60 115.32 L340.30 115.00 L341.00 115.30 L341.70 115.32 L342.40 115.39 L343.10 115.25 L343.80 115.04 L344.50 115.15 L345.20 114.97 L345.90 115.29 L346.60 115.02 L347.30 115.27 L348.00 114.91 L348.70 114.93 L349.40 115.23 L350.10 115.18 L350.80 115.24 L351.50 115.03 L352.20 115.05 L352.90 115.37 L353.60 115.20 L354.30 115.28 L355.00 114.98 L355.70 115.03 L356.40 115.13 L357.10 115.07 L357.80 115.04 L358.50 115.01 L359.20 114.94 L359.90 115.33 L360.60 115.09 L361.30 114.93 L362.00 115.18 L362.70 114.91 L363.40 114.95 L364.10 115.02 L364.80 115.38 L365.50 115.22 L366.20 115.18 L366.90 114.90 L367.60 115.33 L368.30 115.28 L369.00 115.04 L369.70 115.13 L370.40 114.96 L371.10 115.08 L371.80 115.16 L372.50 114.93 L373.20 115.36 L373.90 115.09 L374.60 115.28 L375.30 115.37 L376.00 115.34 L376.70 115.12 L377.40 115.08 L378.10 115.24 L378.80 115.08 L379.50 115.22 L380.20 115.33 L380.90 115.24 L381.60 115.20 L382.30 114.94 L382.5 116.10 Z" fill="#c6c6c6" stroke="#9c9c9c" stroke-width="0.6" stroke-linejoin="round"/>
<polyline points="291.10,114.91 291.70,114.02 292.30,114.51 292.90,115.14 293.50,114.63 294.10,113.22 294.70,114.21 295.30,114.24 295.90,113.06 296.50,112.82 297.10,113.15 297.70,112.20 298.30,113.77 298.90,111.51 299.50,112.09 300.10,112.44 300.70,112.36 301.30,112.46 301.90,112.41 302.50,112.04 303.10,112.67 303.70,110.76 304.30,111.83 304.90,111.33 305.50,111.68 306.10,111.62 306.70,110.89 307.30,110.93 307.90,111.58 308.50,111.20 309.10,110.50 309.70,111.86 310.30,111.88 310.90,109.67 311.50,110.50 312.10,111.58 312.70,110.50 313.30,110.04 313.90,109.65 314.50,109.31 315.10,109.34 315.70,109.00 316.30,109.56 316.90,108.77 317.50,108.59 318.10,108.02 318.70,108.50 319.30,108.14 319.90,108.69 320.50,109.52 321.10,109.31 321.70,109.54 322.30,109.62 322.90,109.61 323.50,109.67 324.10,109.73 324.70,110.48 325.30,109.67 325.90,111.20 326.50,110.67 327.10,110.44 327.70,110.78 328.30,110.87 328.90,111.53 329.50,111.24 330.10,112.46 330.70,111.57 331.30,110.89 331.90,111.88 332.50,111.33 333.10,112.55 333.70,113.30 334.30,113.22 334.90,112.27 335.50,112.74 336.10,114.28 336.70,113.26 337.30,112.88 337.90,113.25 338.50,113.81 339.10,112.96 339.70,112.11 340.30,112.02 340.90,111.96 341.50,111.07 342.10,110.62 342.70,111.03 343.30,110.29 343.90,110.58 344.50,110.47 345.10,111.51 345.70,109.55 346.30,109.76 346.90,109.54 347.50,109.67 348.10,109.98 348.70,109.13 349.30,108.95 349.90,108.50 350.50,108.89 351.10,109.70 351.70,109.53 352.30,109.26 352.90,109.92 353.50,110.46 354.10,111.03 354.70,110.74 355.30,111.24 355.90,110.69 356.50,111.30 357.10,112.92 357.70,110.93 358.30,112.05 358.90,112.45 359.50,112.23 360.10,112.09 360.70,112.60 361.30,112.66 361.90,112.49 362.50,111.37 363.10,112.20 363.70,111.68 364.30,111.73 364.90,112.02 365.50,112.49 366.10,112.87 366.70,112.34 367.30,113.36 367.90,113.74 368.50,113.95 369.10,114.33 369.70,113.72 370.30,113.95 370.90,114.68 371.50,113.55 372.10,114.50 372.70,114.17 373.30,114.33 373.90,113.66 374.50,114.20 375.10,114.76 375.70,115.34 376.30,115.47 376.90,114.96 377.50,114.98 378.10,114.70 378.70,115.41 379.30,115.02 379.90,115.45 380.50,116.05 381.10,115.04 381.70,114.20" fill="none" stroke="#d8162a" stroke-width="1.9" stroke-linejoin="round"/>
<rect x="287.1" y="69.5" width="98.30" height="47.9" fill="none" stroke="#000" stroke-width="1.3"/>
<text x="290.25" y="79.00" font-size="11" stroke="#000" stroke-width="0.25" font-weight="bold" textLength="51.27" lengthAdjust="spacingAndGlyphs">H3K4me1</text>
<line x1="288.60" y1="123.50" x2="384.40" y2="123.50" stroke="#6c6c6c" stroke-width="1" stroke-dasharray="1 1"/>
<line x1="288.60" y1="134.50" x2="384.40" y2="134.50" stroke="#6c6c6c" stroke-width="1" stroke-dasharray="1 1"/>
<line x1="288.60" y1="145.50" x2="384.40" y2="145.50" stroke="#6c6c6c" stroke-width="1" stroke-dasharray="1 1"/>
<line x1="288.60" y1="156.50" x2="384.40" y2="156.50" stroke="#6c6c6c" stroke-width="1" stroke-dasharray="1 1"/>
<line x1="291.50" y1="122.50" x2="291.50" y2="168.40" stroke="#6c6c6c" stroke-width="1" stroke-dasharray="1 1.5"/>
<line x1="314.50" y1="122.50" x2="314.50" y2="168.40" stroke="#6c6c6c" stroke-width="1" stroke-dasharray="1 1.5"/>
<line x1="336.50" y1="122.50" x2="336.50" y2="168.40" stroke="#6c6c6c" stroke-width="1" stroke-dasharray="1 1.5"/>
<line x1="359.50" y1="122.50" x2="359.50" y2="168.40" stroke="#6c6c6c" stroke-width="1" stroke-dasharray="1 1.5"/>
<line x1="381.50" y1="122.50" x2="381.50" y2="168.40" stroke="#6c6c6c" stroke-width="1" stroke-dasharray="1 1.5"/>
<line x1="283.10" y1="123.20" x2="287.10" y2="123.20" stroke="#000" stroke-width="1.5"/>
<text x="282.20" y="126.10" font-size="8.3" stroke="#000" stroke-width="0.25" font-weight="bold" text-anchor="end" textLength="16.80" lengthAdjust="spacingAndGlyphs">1.00</text>
<line x1="283.10" y1="134.32" x2="287.10" y2="134.32" stroke="#000" stroke-width="1.5"/>
<text x="282.20" y="137.22" font-size="8.3" stroke="#000" stroke-width="0.25" font-weight="bold" text-anchor="end" textLength="16.80" lengthAdjust="spacingAndGlyphs">0.75</text>
<line x1="283.10" y1="145.45" x2="287.10" y2="145.45" stroke="#000" stroke-width="1.5"/>
<text x="282.20" y="148.35" font-size="8.3" stroke="#000" stroke-width="0.25" font-weight="bold" text-anchor="end" textLength="16.80" lengthAdjust="spacingAndGlyphs">0.50</text>
<line x1="283.10" y1="156.57" x2="287.10" y2="156.57" stroke="#000" stroke-width="1.5"/>
<text x="282.20" y="159.47" font-size="8.3" stroke="#000" stroke-width="0.25" font-weight="bold" text-anchor="end" textLength="16.80" lengthAdjust="spacingAndGlyphs">0.25</text>
<line x1="283.10" y1="167.70" x2="287.10" y2="167.70" stroke="#000" stroke-width="1.5"/>
<text x="282.20" y="170.60" font-size="8.3" stroke="#000" stroke-width="0.25" font-weight="bold" text-anchor="end" textLength="16.80" lengthAdjust="spacingAndGlyphs">0.00</text>
<path d="M291.3 168.10 L291.30 167.27 L292.00 166.93 L292.70 167.31 L293.40 167.31 L294.10 167.23 L294.80 167.28 L295.50 167.06 L296.20 167.34 L296.90 166.95 L297.60 166.97 L298.30 167.40 L299.00 167.13 L299.70 167.35 L300.40 167.27 L301.10 166.60 L301.80 167.17 L302.50 167.17 L303.20 166.70 L303.90 166.72 L304.60 166.66 L305.30 167.06 L306.00 166.51 L306.70 166.94 L307.40 166.65 L308.10 166.80 L308.80 166.66 L309.50 166.67 L310.20 166.96 L310.90 167.20 L311.60 166.97 L312.30 167.00 L313.00 167.07 L313.70 167.01 L314.40 164.57 L315.10 166.14 L315.80 164.44 L316.50 166.06 L317.20 166.93 L317.90 167.33 L318.60 164.76 L319.30 167.13 L320.00 167.24 L320.70 166.45 L321.40 167.00 L322.10 166.94 L322.80 164.74 L323.50 166.20 L324.20 163.72 L324.90 167.13 L325.60 166.88 L326.30 164.31 L327.00 166.34 L327.70 164.85 L328.40 166.35 L329.10 166.46 L329.80 164.28 L330.50 166.81 L331.20 165.88 L331.90 165.80 L332.60 167.36 L333.30 166.95 L334.00 167.09 L334.70 167.18 L335.40 165.26 L336.10 165.74 L336.80 166.71 L337.50 166.41 L338.20 166.94 L338.90 166.48 L339.60 164.50 L340.30 167.20 L341.00 165.40 L341.70 165.22 L342.40 166.92 L343.10 166.88 L343.80 166.95 L344.50 165.79 L345.20 166.60 L345.90 167.29 L346.60 166.90 L347.30 167.06 L348.00 163.77 L348.70 165.59 L349.40 166.17 L350.10 166.12 L350.80 165.75 L351.50 163.80 L352.20 166.54 L352.90 167.10 L353.60 167.17 L354.30 167.30 L355.00 166.93 L355.70 167.33 L356.40 167.14 L357.10 167.34 L357.80 167.35 L358.50 167.05 L359.20 166.96 L359.90 167.17 L360.60 167.00 L361.30 166.97 L362.00 167.13 L362.70 167.01 L363.40 167.25 L364.10 167.32 L364.80 167.31 L365.50 167.40 L366.20 167.36 L366.90 167.02 L367.60 166.95 L368.30 166.15 L369.00 167.04 L369.70 165.32 L370.40 164.89 L371.10 167.15 L371.80 165.43 L372.50 165.95 L373.20 164.73 L373.90 167.02 L374.60 165.58 L375.30 166.98 L376.00 166.93 L376.70 167.35 L377.40 167.30 L378.10 167.37 L378.80 167.39 L379.50 167.34 L380.20 166.94 L380.90 167.05 L381.60 167.20 L382.30 167.40 L382.5 168.10 Z" fill="#c6c6c6" stroke="#9c9c9c" stroke-width="0.6" stroke-linejoin="round"/>
<path d="M315.50 168.00V164.70 M320.00 168.00V163.70 M325.20 168.00V161.20 M330.00 168.00V163.70 M336.10 168.00V160.20 M339.60 168.00V158.70 M344.80 168.00V160.20 M347.10 168.00V159.70 M351.00 168.00V163.70 M368.00 168.00V164.20 M371.00 168.00V162.70 M374.00 168.00V163.70" stroke="#8e8e8e" stroke-width="1.0" fill="none"/>
<polyline points="291.10,166.63 291.70,166.20 292.30,166.25 292.90,167.53 293.50,166.83 294.10,165.78 294.70,166.87 295.30,167.11 295.90,166.12 296.50,165.85 297.10,165.94 297.70,166.18 298.30,166.28 298.90,166.48 299.50,166.35 300.10,166.16 300.70,166.07 301.30,165.51 301.90,164.13 302.50,164.72 303.10,164.79 303.70,164.23 304.30,164.76 304.90,163.88 305.50,163.39 306.10,164.52 306.70,163.91 307.30,163.48 307.90,163.65 308.50,163.50 309.10,162.88 309.70,161.12 310.30,161.88 310.90,161.78 311.50,161.27 312.10,161.69 312.70,162.02 313.30,160.87 313.90,160.29 314.50,161.81 315.10,160.23 315.70,159.52 316.30,160.04 316.90,159.84 317.50,158.93 318.10,159.45 318.70,158.45 319.30,157.92 319.90,158.23 320.50,158.26 321.10,157.19 321.70,157.42 322.30,156.89 322.90,158.20 323.50,155.95 324.10,156.75 324.70,155.61 325.30,155.22 325.90,155.34 326.50,155.08 327.10,154.94 327.70,154.07 328.30,153.21 328.90,152.90 329.50,153.14 330.10,152.94 330.70,153.16 331.30,152.39 331.90,152.50 332.50,152.52 333.10,151.54 333.70,150.40 334.30,150.33 334.90,150.14 335.50,151.86 336.10,150.56 336.70,151.75 337.30,151.45 337.90,152.12 338.50,151.77 339.10,151.21 339.70,151.28 340.30,151.72 340.90,152.06 341.50,151.95 342.10,152.51 342.70,153.69 343.30,152.15 343.90,153.51 344.50,153.15 345.10,154.13 345.70,154.89 346.30,154.79 346.90,155.64 347.50,154.74 348.10,156.62 348.70,156.07 349.30,157.14 349.90,157.30 350.50,156.18 351.10,157.58 351.70,158.52 352.30,159.65 352.90,159.36 353.50,159.74 354.10,159.22 354.70,161.19 355.30,161.63 355.90,160.90 356.50,161.00 357.10,160.47 357.70,162.09 358.30,163.33 358.90,162.47 359.50,163.02 360.10,162.79 360.70,162.09 361.30,163.50 361.90,162.23 362.50,162.93 363.10,163.33 363.70,163.80 364.30,163.68 364.90,163.81 365.50,163.31 366.10,163.19 366.70,164.13 367.30,163.91 367.90,163.78 368.50,164.00 369.10,164.63 369.70,164.08 370.30,164.56 370.90,164.60 371.50,165.80 372.10,166.09 372.70,167.09 373.30,165.29 373.90,165.87 374.50,166.87 375.10,166.37 375.70,166.44 376.30,167.68 376.90,166.68 377.50,166.36 378.10,166.38 378.70,167.28 379.30,167.27 379.90,166.35 380.50,166.56 381.10,167.39 381.70,167.42" fill="none" stroke="#d8162a" stroke-width="1.9" stroke-linejoin="round"/>
<rect x="287.1" y="121.5" width="98.30" height="47.9" fill="none" stroke="#000" stroke-width="1.3"/>
<text x="289.90" y="132.10" font-size="11" stroke="#000" stroke-width="0.25" font-weight="bold" textLength="54.23" lengthAdjust="spacingAndGlyphs">H3K4me3</text>
<line x1="288.60" y1="175.50" x2="384.40" y2="175.50" stroke="#6c6c6c" stroke-width="1" stroke-dasharray="1 1"/>
<line x1="288.60" y1="186.50" x2="384.40" y2="186.50" stroke="#6c6c6c" stroke-width="1" stroke-dasharray="1 1"/>
<line x1="288.60" y1="197.50" x2="384.40" y2="197.50" stroke="#6c6c6c" stroke-width="1" stroke-dasharray="1 1"/>
<line x1="288.60" y1="208.50" x2="384.40" y2="208.50" stroke="#6c6c6c" stroke-width="1" stroke-dasharray="1 1"/>
<line x1="291.50" y1="174.50" x2="291.50" y2="220.20" stroke="#6c6c6c" stroke-width="1" stroke-dasharray="1 1.5"/>
<line x1="314.50" y1="174.50" x2="314.50" y2="220.20" stroke="#6c6c6c" stroke-width="1" stroke-dasharray="1 1.5"/>
<line x1="336.50" y1="174.50" x2="336.50" y2="220.20" stroke="#6c6c6c" stroke-width="1" stroke-dasharray="1 1.5"/>
<line x1="359.50" y1="174.50" x2="359.50" y2="220.20" stroke="#6c6c6c" stroke-width="1" stroke-dasharray="1 1.5"/>
<line x1="381.50" y1="174.50" x2="381.50" y2="220.20" stroke="#6c6c6c" stroke-width="1" stroke-dasharray="1 1.5"/>
<line x1="283.10" y1="175.00" x2="287.10" y2="175.00" stroke="#000" stroke-width="1.5"/>
<text x="282.20" y="177.90" font-size="8.3" stroke="#000" stroke-width="0.25" font-weight="bold" text-anchor="end" textLength="16.80" lengthAdjust="spacingAndGlyphs">1.00</text>
<line x1="283.10" y1="186.12" x2="287.10" y2="186.12" stroke="#000" stroke-width="1.5"/>
<text x="282.20" y="189.03" font-size="8.3" stroke="#000" stroke-width="0.25" font-weight="bold" text-anchor="end" textLength="16.80" lengthAdjust="spacingAndGlyphs">0.75</text>
<line x1="283.10" y1="197.25" x2="287.10" y2="197.25" stroke="#000" stroke-width="1.5"/>
<text x="282.20" y="200.15" font-size="8.3" stroke="#000" stroke-width="0.25" font-weight="bold" text-anchor="end" textLength="16.80" lengthAdjust="spacingAndGlyphs">0.50</text>
<line x1="283.10" y1="208.38" x2="287.10" y2="208.38" stroke="#000" stroke-width="1.5"/>
<text x="282.20" y="211.28" font-size="8.3" stroke="#000" stroke-width="0.25" font-weight="bold" text-anchor="end" textLength="16.80" lengthAdjust="spacingAndGlyphs">0.25</text>
<line x1="283.10" y1="219.50" x2="287.10" y2="219.50" stroke="#000" stroke-width="1.5"/>
<text x="282.20" y="222.40" font-size="8.3" stroke="#000" stroke-width="0.25" font-weight="bold" text-anchor="end" textLength="16.80" lengthAdjust="spacingAndGlyphs">0.00</text>
<path d="M291.3 219.90 L291.30 218.77 L292.00 218.53 L292.70 218.79 L293.40 218.82 L294.10 219.16 L294.80 218.73 L295.50 218.89 L296.20 218.81 L296.90 218.62 L297.60 218.71 L298.30 219.06 L299.00 218.79 L299.70 219.16 L300.40 218.98 L301.10 218.79 L301.80 219.00 L302.50 218.94 L303.20 218.59 L303.90 218.79 L304.60 218.95 L305.30 219.08 L306.00 218.63 L306.70 218.71 L307.40 218.93 L308.10 218.83 L308.80 218.70 L309.50 218.58 L310.20 218.90 L310.90 218.72 L311.60 218.93 L312.30 219.07 L313.00 218.92 L313.70 218.84 L314.40 218.92 L315.10 218.59 L315.80 218.50 L316.50 218.83 L317.20 219.04 L317.90 219.16 L318.60 218.72 L319.30 218.66 L320.00 218.97 L320.70 218.83 L321.40 218.96 L322.10 218.68 L322.80 218.90 L323.50 218.83 L324.20 218.83 L324.90 218.92 L325.60 218.74 L326.30 218.57 L327.00 218.73 L327.70 219.01 L328.40 219.07 L329.10 218.94 L329.80 218.87 L330.50 219.12 L331.20 218.92 L331.90 218.89 L332.60 218.82 L333.30 218.73 L334.00 218.73 L334.70 218.72 L335.40 219.06 L336.10 218.74 L336.80 218.75 L337.50 218.90 L338.20 218.74 L338.90 218.57 L339.60 218.63 L340.30 219.04 L341.00 218.87 L341.70 218.99 L342.40 218.75 L343.10 219.05 L343.80 218.82 L344.50 218.99 L345.20 218.51 L345.90 218.78 L346.60 218.72 L347.30 218.92 L348.00 218.94 L348.70 219.00 L349.40 218.71 L350.10 218.80 L350.80 218.95 L351.50 218.95 L352.20 218.74 L352.90 219.01 L353.60 218.81 L354.30 218.84 L355.00 218.83 L355.70 218.97 L356.40 218.86 L357.10 218.78 L357.80 219.05 L358.50 218.82 L359.20 218.96 L359.90 218.93 L360.60 218.50 L361.30 219.01 L362.00 218.82 L362.70 219.00 L363.40 219.07 L364.10 218.81 L364.80 219.00 L365.50 218.91 L366.20 218.71 L366.90 218.83 L367.60 218.82 L368.30 218.67 L369.00 218.85 L369.70 218.72 L370.40 218.84 L371.10 218.82 L371.80 218.68 L372.50 219.04 L373.20 218.88 L373.90 218.96 L374.60 218.75 L375.30 218.97 L376.00 219.11 L376.70 218.79 L377.40 219.07 L378.10 218.88 L378.80 218.58 L379.50 218.72 L380.20 218.98 L380.90 218.91 L381.60 218.91 L382.30 218.99 L382.5 219.90 Z" fill="#c6c6c6" stroke="#9c9c9c" stroke-width="0.6" stroke-linejoin="round"/>
<path d="M291.00 219.80V218.00 M299.50 219.80V216.50 M305.30 219.80V216.50 M311.00 219.80V215.00 M312.50 219.80V214.00 M314.00 219.80V215.50 M331.30 219.80V213.00 M343.80 219.80V216.00 M351.50 219.80V214.00 M372.60 219.80V216.50 M375.00 219.80V215.50 M378.40 219.80V214.50" stroke="#8e8e8e" stroke-width="1.0" fill="none"/>
<polyline points="291.10,217.95 291.70,218.66 292.30,218.64 292.90,217.36 293.50,218.18 294.10,218.60 294.70,218.07 295.30,217.22 295.90,218.25 296.50,218.83 297.10,219.30 297.70,217.24 298.30,219.90 298.90,217.86 299.50,219.02 300.10,219.18 300.70,219.03 301.30,218.56 301.90,217.82 302.50,218.79 303.10,218.04 303.70,217.04 304.30,219.97 304.90,218.79 305.50,219.39 306.10,217.88 306.70,219.17 307.30,219.23 307.90,219.20 308.50,218.32 309.10,217.66 309.70,218.21 310.30,217.10 310.90,217.39 311.50,218.40 312.10,217.82 312.70,218.29 313.30,218.34 313.90,219.48 314.50,219.15 315.10,218.43 315.70,219.14 316.30,218.06 316.90,218.32 317.50,219.03 318.10,217.86 318.70,218.41 319.30,217.85 319.90,218.66 320.50,219.49 321.10,218.16 321.70,218.69 322.30,218.06 322.90,217.91 323.50,217.85 324.10,219.32 324.70,219.81 325.30,218.76 325.90,218.09 326.50,218.86 327.10,218.27 327.70,218.89 328.30,218.59 328.90,218.58 329.50,218.74 330.10,218.08 330.70,218.18 331.30,217.47 331.90,218.18 332.50,217.64 333.10,218.35 333.70,217.91 334.30,218.50 334.90,218.70 335.50,217.67 336.10,218.01 336.70,217.95 337.30,218.88 337.90,219.42 338.50,218.95 339.10,218.30 339.70,219.30 340.30,217.66 340.90,219.31 341.50,218.11 342.10,216.93 342.70,219.90 343.30,219.30 343.90,217.85 344.50,218.50 345.10,218.28 345.70,218.44 346.30,217.56 346.90,217.99 347.50,218.61 348.10,218.46 348.70,218.99 349.30,218.36 349.90,219.59 350.50,217.91 351.10,218.44 351.70,217.25 352.30,217.61 352.90,219.03 353.50,217.78 354.10,218.59 354.70,218.27 355.30,217.73 355.90,218.11 356.50,218.02 357.10,218.03 357.70,218.71 358.30,218.66 358.90,217.98 359.50,217.80 360.10,218.45 360.70,218.22 361.30,218.81 361.90,219.68 362.50,218.66 363.10,218.16 363.70,218.06 364.30,217.66 364.90,217.61 365.50,217.53 366.10,217.84 366.70,217.80 367.30,218.42 367.90,217.76 368.50,217.85 369.10,217.27 369.70,218.82 370.30,218.14 370.90,218.78 371.50,218.16 372.10,218.47 372.70,217.44 373.30,217.90 373.90,218.92 374.50,216.69 375.10,217.96 375.70,218.30 376.30,217.66 376.90,217.91 377.50,218.25 378.10,217.21 378.70,217.69 379.30,216.84 379.90,216.83 380.50,216.74 381.10,216.88 381.70,216.92" fill="none" stroke="#d8162a" stroke-width="1.9" stroke-linejoin="round"/>
<rect x="287.1" y="173.3" width="98.30" height="47.9" fill="none" stroke="#000" stroke-width="1.3"/>
<text x="289.72" y="185.40" font-size="11" stroke="#000" stroke-width="0.25" font-weight="bold" textLength="59.40" lengthAdjust="spacingAndGlyphs">H3K27me3</text>
<line x1="288.60" y1="227.50" x2="384.40" y2="227.50" stroke="#6c6c6c" stroke-width="1" stroke-dasharray="1 1"/>
<line x1="288.60" y1="238.50" x2="384.40" y2="238.50" stroke="#6c6c6c" stroke-width="1" stroke-dasharray="1 1"/>
<line x1="288.60" y1="250.50" x2="384.40" y2="250.50" stroke="#6c6c6c" stroke-width="1" stroke-dasharray="1 1"/>
<line x1="288.60" y1="261.50" x2="384.40" y2="261.50" stroke="#6c6c6c" stroke-width="1" stroke-dasharray="1 1"/>
<line x1="291.50" y1="227.50" x2="291.50" y2="273.00" stroke="#6c6c6c" stroke-width="1" stroke-dasharray="1 1.5"/>
<line x1="314.50" y1="227.50" x2="314.50" y2="273.00" stroke="#6c6c6c" stroke-width="1" stroke-dasharray="1 1.5"/>
<line x1="336.50" y1="227.50" x2="336.50" y2="273.00" stroke="#6c6c6c" stroke-width="1" stroke-dasharray="1 1.5"/>
<line x1="359.50" y1="227.50" x2="359.50" y2="273.00" stroke="#6c6c6c" stroke-width="1" stroke-dasharray="1 1.5"/>
<line x1="381.50" y1="227.50" x2="381.50" y2="273.00" stroke="#6c6c6c" stroke-width="1" stroke-dasharray="1 1.5"/>
<line x1="283.10" y1="227.80" x2="287.10" y2="227.80" stroke="#000" stroke-width="1.5"/>
<text x="282.20" y="230.70" font-size="8.3" stroke="#000" stroke-width="0.25" font-weight="bold" text-anchor="end" textLength="16.80" lengthAdjust="spacingAndGlyphs">1.00</text>
<line x1="283.10" y1="238.92" x2="287.10" y2="238.92" stroke="#000" stroke-width="1.5"/>
<text x="282.20" y="241.82" font-size="8.3" stroke="#000" stroke-width="0.25" font-weight="bold" text-anchor="end" textLength="16.80" lengthAdjust="spacingAndGlyphs">0.75</text>
<line x1="283.10" y1="250.05" x2="287.10" y2="250.05" stroke="#000" stroke-width="1.5"/>
<text x="282.20" y="252.95" font-size="8.3" stroke="#000" stroke-width="0.25" font-weight="bold" text-anchor="end" textLength="16.80" lengthAdjust="spacingAndGlyphs">0.50</text>
<line x1="283.10" y1="261.17" x2="287.10" y2="261.17" stroke="#000" stroke-width="1.5"/>
<text x="282.20" y="264.07" font-size="8.3" stroke="#000" stroke-width="0.25" font-weight="bold" text-anchor="end" textLength="16.80" lengthAdjust="spacingAndGlyphs">0.25</text>
<line x1="283.10" y1="272.30" x2="287.10" y2="272.30" stroke="#000" stroke-width="1.5"/>
<text x="282.20" y="275.20" font-size="8.3" stroke="#000" stroke-width="0.25" font-weight="bold" text-anchor="end" textLength="16.80" lengthAdjust="spacingAndGlyphs">0.00</text>
<path d="M291.3 272.70 L291.30 271.58 L292.00 271.82 L292.70 271.65 L293.40 271.57 L294.10 271.68 L294.80 271.73 L295.50 271.62 L296.20 271.64 L296.90 271.77 L297.60 271.71 L298.30 271.63 L299.00 271.97 L299.70 271.68 L300.40 271.63 L301.10 271.80 L301.80 271.75 L302.50 271.89 L303.20 271.67 L303.90 271.51 L304.60 271.85 L305.30 271.77 L306.00 271.55 L306.70 271.72 L307.40 271.79 L308.10 271.67 L308.80 271.98 L309.50 271.92 L310.20 271.56 L310.90 271.92 L311.60 271.80 L312.30 271.54 L313.00 271.62 L313.70 271.51 L314.40 271.62 L315.10 271.54 L315.80 271.83 L316.50 271.62 L317.20 271.92 L317.90 271.59 L318.60 271.63 L319.30 271.70 L320.00 271.76 L320.70 271.92 L321.40 271.59 L322.10 271.67 L322.80 271.82 L323.50 271.67 L324.20 271.66 L324.90 271.66 L325.60 271.50 L326.30 271.58 L327.00 271.79 L327.70 271.90 L328.40 271.89 L329.10 271.87 L329.80 271.61 L330.50 271.60 L331.20 271.89 L331.90 271.53 L332.60 271.84 L333.30 271.77 L334.00 271.71 L334.70 271.50 L335.40 271.55 L336.10 271.74 L336.80 271.55 L337.50 271.90 L338.20 271.60 L338.90 271.66 L339.60 271.92 L340.30 271.97 L341.00 271.54 L341.70 272.00 L342.40 271.93 L343.10 271.51 L343.80 271.65 L344.50 271.72 L345.20 271.77 L345.90 271.71 L346.60 271.77 L347.30 271.71 L348.00 271.86 L348.70 271.84 L349.40 271.75 L350.10 271.80 L350.80 271.64 L351.50 271.60 L352.20 271.62 L352.90 271.77 L353.60 271.80 L354.30 271.99 L355.00 271.82 L355.70 271.61 L356.40 271.83 L357.10 271.85 L357.80 271.92 L358.50 271.68 L359.20 271.75 L359.90 271.98 L360.60 271.86 L361.30 271.96 L362.00 271.92 L362.70 271.87 L363.40 271.77 L364.10 271.51 L364.80 271.68 L365.50 271.94 L366.20 271.74 L366.90 271.80 L367.60 271.90 L368.30 271.79 L369.00 271.70 L369.70 271.95 L370.40 271.52 L371.10 271.75 L371.80 271.82 L372.50 271.66 L373.20 271.53 L373.90 271.99 L374.60 271.66 L375.30 271.58 L376.00 271.78 L376.70 271.96 L377.40 271.62 L378.10 271.83 L378.80 271.85 L379.50 271.62 L380.20 272.00 L380.90 271.88 L381.60 271.55 L382.30 271.92 L382.5 272.70 Z" fill="#c6c6c6" stroke="#9c9c9c" stroke-width="0.6" stroke-linejoin="round"/>
<polyline points="290.90,272.15 291.50,270.90 292.10,272.61 292.70,271.94 293.30,271.50 293.90,270.69 294.50,270.64 295.10,270.79 295.70,270.51 296.30,269.13 296.90,270.29 297.50,271.32 298.10,268.43 298.70,269.83 299.30,269.28 299.90,268.79 300.50,269.41 301.10,267.75 301.70,268.29 302.30,268.81 302.90,267.65 303.50,267.31 304.10,267.39 304.70,266.86 305.30,267.76 305.90,266.16 306.50,266.95 307.10,265.53 307.70,266.24 308.30,265.40 308.90,263.60 309.50,264.65 310.10,263.65 310.70,263.60 311.30,264.31 311.90,262.41 312.50,262.04 313.10,263.08 313.70,262.10 314.30,262.68 314.90,261.77 315.50,260.86 316.10,261.09 316.70,261.60 317.30,261.21 317.90,260.46 318.50,260.26 319.10,259.94 319.70,259.45 320.30,260.64 320.90,259.34 321.50,258.50 322.10,258.68 322.70,259.16 323.30,258.92 323.90,258.28 324.50,257.79 325.10,257.98 325.70,256.83 326.30,256.85 326.90,257.84 327.50,256.92 328.10,257.21 328.70,257.52 329.30,257.07 329.90,256.58 330.50,257.63 331.10,256.67 331.70,255.96 332.30,256.44 332.90,256.12 333.50,255.27 334.10,255.66 334.70,255.51 335.30,254.49 335.90,255.50 336.50,255.44 337.10,255.35 337.70,254.67 338.30,255.40 338.90,255.58 339.50,255.66 340.10,255.02 340.70,256.22 341.30,255.37 341.90,256.13 342.50,257.19 343.10,256.26 343.70,256.56 344.30,257.65 344.90,257.02 345.50,257.27 346.10,257.89 346.70,258.75 347.30,257.30 347.90,258.47 348.50,258.77 349.10,259.11 349.70,259.64 350.30,260.04 350.90,261.08 351.50,260.80 352.10,261.78 352.70,262.35 353.30,262.12 353.90,263.02 354.50,264.28 355.10,263.94 355.70,263.81 356.30,264.55 356.90,264.48 357.50,265.50 358.10,266.14 358.70,265.49 359.30,266.13 359.90,267.18 360.50,266.57 361.10,267.26 361.70,266.87 362.30,267.29 362.90,267.76 363.50,269.46 364.10,268.24 364.70,268.37 365.30,268.54 365.90,268.96 366.50,269.61 367.10,269.55 367.70,270.77 368.30,269.95 368.90,270.82 369.50,270.32 370.10,270.65 370.70,269.67 371.30,270.55 371.90,270.73 372.50,270.78 373.10,269.88 373.70,271.69 374.30,271.14 374.90,271.26 375.50,271.51 376.10,271.68 376.70,272.15 377.30,271.32 377.90,271.60 378.50,272.36 379.10,272.37 379.70,272.17 380.30,272.15 380.90,272.09 381.50,272.61" fill="none" stroke="#d8162a" stroke-width="1.9" stroke-linejoin="round"/>
<rect x="287.1" y="226.1" width="98.30" height="47.9" fill="none" stroke="#000" stroke-width="1.3"/>
<text x="289.42" y="237.50" font-size="11" stroke="#000" stroke-width="0.25" font-weight="bold" textLength="29.82" lengthAdjust="spacingAndGlyphs">H4Ac</text>
<line x1="288.60" y1="281.50" x2="384.40" y2="281.50" stroke="#6c6c6c" stroke-width="1" stroke-dasharray="1 1"/>
<line x1="288.60" y1="292.50" x2="384.40" y2="292.50" stroke="#6c6c6c" stroke-width="1" stroke-dasharray="1 1"/>
<line x1="288.60" y1="303.50" x2="384.40" y2="303.50" stroke="#6c6c6c" stroke-width="1" stroke-dasharray="1 1"/>
<line x1="288.60" y1="314.50" x2="384.40" y2="314.50" stroke="#6c6c6c" stroke-width="1" stroke-dasharray="1 1"/>
<line x1="291.50" y1="280.50" x2="291.50" y2="326.80" stroke="#6c6c6c" stroke-width="1" stroke-dasharray="1 1.5"/>
<line x1="314.50" y1="280.50" x2="314.50" y2="326.80" stroke="#6c6c6c" stroke-width="1" stroke-dasharray="1 1.5"/>
<line x1="336.50" y1="280.50" x2="336.50" y2="326.80" stroke="#6c6c6c" stroke-width="1" stroke-dasharray="1 1.5"/>
<line x1="359.50" y1="280.50" x2="359.50" y2="326.80" stroke="#6c6c6c" stroke-width="1" stroke-dasharray="1 1.5"/>
<line x1="381.50" y1="280.50" x2="381.50" y2="326.80" stroke="#6c6c6c" stroke-width="1" stroke-dasharray="1 1.5"/>
<line x1="283.10" y1="281.60" x2="287.10" y2="281.60" stroke="#000" stroke-width="1.5"/>
<text x="282.20" y="284.50" font-size="8.3" stroke="#000" stroke-width="0.25" font-weight="bold" text-anchor="end" textLength="16.80" lengthAdjust="spacingAndGlyphs">1.00</text>
<line x1="283.10" y1="292.72" x2="287.10" y2="292.72" stroke="#000" stroke-width="1.5"/>
<text x="282.20" y="295.62" font-size="8.3" stroke="#000" stroke-width="0.25" font-weight="bold" text-anchor="end" textLength="16.80" lengthAdjust="spacingAndGlyphs">0.75</text>
<line x1="283.10" y1="303.85" x2="287.10" y2="303.85" stroke="#000" stroke-width="1.5"/>
<text x="282.20" y="306.75" font-size="8.3" stroke="#000" stroke-width="0.25" font-weight="bold" text-anchor="end" textLength="16.80" lengthAdjust="spacingAndGlyphs">0.50</text>
<line x1="283.10" y1="314.97" x2="287.10" y2="314.97" stroke="#000" stroke-width="1.5"/>
<text x="282.20" y="317.87" font-size="8.3" stroke="#000" stroke-width="0.25" font-weight="bold" text-anchor="end" textLength="16.80" lengthAdjust="spacingAndGlyphs">0.25</text>
<line x1="283.10" y1="326.10" x2="287.10" y2="326.10" stroke="#000" stroke-width="1.5"/>
<text x="282.20" y="329.00" font-size="8.3" stroke="#000" stroke-width="0.25" font-weight="bold" text-anchor="end" textLength="16.80" lengthAdjust="spacingAndGlyphs">0.00</text>
<path d="M291.3 326.50 L291.30 325.45 L292.00 324.50 L292.70 324.19 L293.40 325.78 L294.10 323.09 L294.80 324.69 L295.50 322.42 L296.20 322.32 L296.90 322.60 L297.60 323.65 L298.30 325.41 L299.00 325.38 L299.70 324.97 L300.40 325.33 L301.10 322.37 L301.80 324.72 L302.50 325.61 L303.20 325.68 L303.90 325.53 L304.60 325.33 L305.30 325.63 L306.00 325.35 L306.70 325.57 L307.40 325.32 L308.10 325.42 L308.80 325.41 L309.50 325.62 L310.20 325.51 L310.90 325.68 L311.60 325.40 L312.30 325.67 L313.00 325.46 L313.70 325.76 L314.40 325.68 L315.10 325.62 L315.80 325.71 L316.50 325.67 L317.20 325.70 L317.90 325.78 L318.60 325.63 L319.30 324.51 L320.00 325.59 L320.70 324.89 L321.40 325.76 L322.10 325.49 L322.80 324.18 L323.50 325.79 L324.20 325.41 L324.90 325.59 L325.60 325.31 L326.30 325.41 L327.00 325.37 L327.70 325.52 L328.40 325.63 L329.10 325.37 L329.80 325.59 L330.50 325.36 L331.20 325.34 L331.90 325.62 L332.60 325.44 L333.30 325.39 L334.00 325.30 L334.70 325.57 L335.40 325.70 L336.10 324.42 L336.80 322.30 L337.50 323.97 L338.20 324.08 L338.90 324.31 L339.60 324.71 L340.30 323.86 L341.00 325.11 L341.70 322.11 L342.40 325.32 L343.10 322.78 L343.80 324.71 L344.50 323.83 L345.20 325.65 L345.90 321.57 L346.60 324.90 L347.30 321.35 L348.00 325.37 L348.70 324.94 L349.40 323.37 L350.10 325.49 L350.80 325.56 L351.50 325.47 L352.20 325.70 L352.90 325.33 L353.60 325.30 L354.30 325.39 L355.00 325.51 L355.70 325.38 L356.40 325.46 L357.10 325.37 L357.80 325.55 L358.50 325.66 L359.20 325.52 L359.90 325.55 L360.60 325.70 L361.30 325.46 L362.00 325.43 L362.70 325.67 L363.40 325.72 L364.10 325.51 L364.80 325.57 L365.50 325.44 L366.20 325.43 L366.90 325.79 L367.60 325.69 L368.30 325.37 L369.00 325.46 L369.70 325.40 L370.40 325.43 L371.10 325.50 L371.80 325.64 L372.50 325.66 L373.20 324.23 L373.90 322.83 L374.60 325.34 L375.30 324.72 L376.00 324.28 L376.70 324.35 L377.40 324.22 L378.10 325.36 L378.80 325.48 L379.50 325.54 L380.20 325.63 L380.90 325.30 L381.60 325.65 L382.30 325.41 L382.5 326.50 Z" fill="#c6c6c6" stroke="#9c9c9c" stroke-width="0.6" stroke-linejoin="round"/>
<path d="M294.00 326.40V321.10 M297.00 326.40V320.10 M300.00 326.40V321.60 M321.70 326.40V322.60 M337.00 326.40V320.10 M340.00 326.40V318.60 M343.00 326.40V318.10 M346.00 326.40V319.10 M348.00 326.40V321.10 M375.50 326.40V318.10" stroke="#8e8e8e" stroke-width="1.0" fill="none"/>
<polyline points="291.10,326.75 291.70,325.48 292.30,326.87 292.90,326.46 293.50,325.71 294.10,326.36 294.70,325.09 295.30,324.90 295.90,325.11 296.50,325.56 297.10,325.57 297.70,325.43 298.30,325.70 298.90,324.38 299.50,325.72 300.10,324.57 300.70,324.89 301.30,324.92 301.90,324.41 302.50,324.20 303.10,324.30 303.70,324.74 304.30,324.97 304.90,324.86 305.50,323.88 306.10,323.86 306.70,323.64 307.30,324.26 307.90,322.75 308.50,324.41 309.10,323.33 309.70,322.98 310.30,323.33 310.90,323.44 311.50,322.79 312.10,322.92 312.70,322.14 313.30,322.48 313.90,321.97 314.50,320.73 315.10,321.06 315.70,319.85 316.30,319.30 316.90,318.23 317.50,318.19 318.10,318.61 318.70,317.30 319.30,318.22 319.90,317.89 320.50,317.69 321.10,316.16 321.70,317.18 322.30,317.46 322.90,316.55 323.50,316.88 324.10,315.39 324.70,316.93 325.30,316.06 325.90,316.64 326.50,314.85 327.10,315.95 327.70,315.15 328.30,315.43 328.90,314.18 329.50,314.06 330.10,315.33 330.70,313.34 331.30,313.11 331.90,313.05 332.50,312.34 333.10,313.25 333.70,313.40 334.30,312.23 334.90,311.84 335.50,313.59 336.10,313.72 336.70,313.73 337.30,314.08 337.90,313.05 338.50,313.48 339.10,312.86 339.70,312.89 340.30,314.25 340.90,313.39 341.50,315.05 342.10,314.06 342.70,313.89 343.30,314.90 343.90,315.67 344.50,315.17 345.10,314.71 345.70,316.07 346.30,317.11 346.90,316.56 347.50,316.89 348.10,318.25 348.70,318.13 349.30,317.80 349.90,318.55 350.50,318.70 351.10,319.63 351.70,319.88 352.30,320.81 352.90,320.92 353.50,320.02 354.10,321.36 354.70,321.83 355.30,321.78 355.90,322.30 356.50,321.63 357.10,321.61 357.70,322.84 358.30,321.95 358.90,321.55 359.50,323.50 360.10,322.64 360.70,322.94 361.30,322.40 361.90,322.50 362.50,322.66 363.10,323.16 363.70,323.62 364.30,322.22 364.90,323.99 365.50,323.04 366.10,323.22 366.70,324.29 367.30,323.99 367.90,323.30 368.50,325.27 369.10,323.89 369.70,324.62 370.30,324.68 370.90,325.42 371.50,324.48 372.10,325.36 372.70,324.48 373.30,325.59 373.90,324.63 374.50,324.93 375.10,326.26 375.70,325.47 376.30,325.45 376.90,326.70 377.50,325.76 378.10,325.19 378.70,326.13 379.30,325.16 379.90,326.52 380.50,326.62 381.10,325.70 381.70,325.73" fill="none" stroke="#d8162a" stroke-width="1.9" stroke-linejoin="round"/>
<rect x="287.1" y="279.9" width="98.30" height="47.9" fill="none" stroke="#000" stroke-width="1.3"/>
<text x="290.02" y="289.80" font-size="11" stroke="#000" stroke-width="0.25" font-weight="bold" textLength="24.47" lengthAdjust="spacingAndGlyphs">CBP</text>
<line x1="288.60" y1="333.50" x2="384.40" y2="333.50" stroke="#6c6c6c" stroke-width="1" stroke-dasharray="1 1"/>
<line x1="288.60" y1="344.50" x2="384.40" y2="344.50" stroke="#6c6c6c" stroke-width="1" stroke-dasharray="1 1"/>
<line x1="288.60" y1="355.50" x2="384.40" y2="355.50" stroke="#6c6c6c" stroke-width="1" stroke-dasharray="1 1"/>
<line x1="288.60" y1="366.50" x2="384.40" y2="366.50" stroke="#6c6c6c" stroke-width="1" stroke-dasharray="1 1"/>
<line x1="291.50" y1="332.50" x2="291.50" y2="378.40" stroke="#6c6c6c" stroke-width="1" stroke-dasharray="1 1.5"/>
<line x1="314.50" y1="332.50" x2="314.50" y2="378.40" stroke="#6c6c6c" stroke-width="1" stroke-dasharray="1 1.5"/>
<line x1="336.50" y1="332.50" x2="336.50" y2="378.40" stroke="#6c6c6c" stroke-width="1" stroke-dasharray="1 1.5"/>
<line x1="359.50" y1="332.50" x2="359.50" y2="378.40" stroke="#6c6c6c" stroke-width="1" stroke-dasharray="1 1.5"/>
<line x1="381.50" y1="332.50" x2="381.50" y2="378.40" stroke="#6c6c6c" stroke-width="1" stroke-dasharray="1 1.5"/>
<line x1="283.10" y1="333.20" x2="287.10" y2="333.20" stroke="#000" stroke-width="1.5"/>
<text x="282.20" y="336.10" font-size="8.3" stroke="#000" stroke-width="0.25" font-weight="bold" text-anchor="end" textLength="16.80" lengthAdjust="spacingAndGlyphs">1.00</text>
<line x1="283.10" y1="344.32" x2="287.10" y2="344.32" stroke="#000" stroke-width="1.5"/>
<text x="282.20" y="347.22" font-size="8.3" stroke="#000" stroke-width="0.25" font-weight="bold" text-anchor="end" textLength="16.80" lengthAdjust="spacingAndGlyphs">0.75</text>
<line x1="283.10" y1="355.45" x2="287.10" y2="355.45" stroke="#000" stroke-width="1.5"/>
<text x="282.20" y="358.35" font-size="8.3" stroke="#000" stroke-width="0.25" font-weight="bold" text-anchor="end" textLength="16.80" lengthAdjust="spacingAndGlyphs">0.50</text>
<line x1="283.10" y1="366.57" x2="287.10" y2="366.57" stroke="#000" stroke-width="1.5"/>
<text x="282.20" y="369.47" font-size="8.3" stroke="#000" stroke-width="0.25" font-weight="bold" text-anchor="end" textLength="16.80" lengthAdjust="spacingAndGlyphs">0.25</text>
<line x1="283.10" y1="377.70" x2="287.10" y2="377.70" stroke="#000" stroke-width="1.5"/>
<text x="282.20" y="380.60" font-size="8.3" stroke="#000" stroke-width="0.25" font-weight="bold" text-anchor="end" textLength="16.80" lengthAdjust="spacingAndGlyphs">0.00</text>
<path d="M291.3 378.10 L291.30 377.12 L292.00 377.18 L292.70 377.35 L293.40 377.23 L294.10 377.09 L294.80 377.39 L295.50 376.96 L296.20 376.97 L296.90 377.38 L297.60 377.00 L298.30 377.31 L299.00 377.05 L299.70 377.32 L300.40 376.95 L301.10 376.92 L301.80 376.91 L302.50 376.90 L303.20 377.32 L303.90 377.20 L304.60 377.19 L305.30 376.92 L306.00 377.25 L306.70 377.12 L307.40 377.20 L308.10 377.33 L308.80 377.21 L309.50 377.02 L310.20 377.19 L310.90 376.99 L311.60 377.11 L312.30 377.36 L313.00 377.02 L313.70 377.06 L314.40 377.00 L315.10 377.28 L315.80 376.91 L316.50 376.97 L317.20 376.95 L317.90 376.92 L318.60 377.09 L319.30 377.11 L320.00 377.37 L320.70 377.05 L321.40 376.96 L322.10 377.08 L322.80 377.40 L323.50 376.93 L324.20 377.21 L324.90 377.36 L325.60 376.91 L326.30 376.26 L327.00 376.54 L327.70 377.02 L328.40 376.30 L329.10 377.04 L329.80 377.22 L330.50 377.07 L331.20 376.48 L331.90 377.08 L332.60 377.08 L333.30 377.30 L334.00 377.12 L334.70 376.39 L335.40 377.15 L336.10 376.98 L336.80 376.79 L337.50 376.34 L338.20 376.86 L338.90 377.02 L339.60 377.06 L340.30 377.07 L341.00 376.56 L341.70 376.91 L342.40 376.25 L343.10 376.87 L343.80 376.80 L344.50 376.94 L345.20 377.29 L345.90 377.36 L346.60 377.13 L347.30 377.11 L348.00 377.36 L348.70 377.06 L349.40 377.25 L350.10 376.90 L350.80 377.23 L351.50 377.04 L352.20 377.09 L352.90 377.11 L353.60 377.37 L354.30 377.00 L355.00 377.24 L355.70 377.09 L356.40 376.97 L357.10 377.07 L357.80 377.29 L358.50 376.91 L359.20 377.00 L359.90 377.14 L360.60 377.03 L361.30 377.25 L362.00 377.23 L362.70 377.18 L363.40 377.01 L364.10 377.24 L364.80 377.07 L365.50 377.16 L366.20 377.26 L366.90 377.09 L367.60 377.20 L368.30 377.16 L369.00 377.05 L369.70 377.09 L370.40 376.91 L371.10 376.99 L371.80 377.10 L372.50 376.99 L373.20 376.95 L373.90 377.22 L374.60 377.14 L375.30 376.93 L376.00 377.37 L376.70 377.08 L377.40 376.98 L378.10 377.04 L378.80 376.93 L379.50 377.39 L380.20 376.98 L380.90 376.91 L381.60 377.22 L382.30 377.04 L382.5 378.10 Z" fill="#c6c6c6" stroke="#9c9c9c" stroke-width="0.6" stroke-linejoin="round"/>
<polyline points="291.30,377.70 291.90,377.40 292.50,376.65 293.10,377.29 293.70,375.65 294.30,376.32 294.90,376.13 295.50,376.00 296.10,376.11 296.70,375.02 297.30,375.72 297.90,375.00 298.50,374.44 299.10,373.75 299.70,373.55 300.30,374.10 300.90,373.07 301.50,373.34 302.10,373.58 302.70,373.27 303.30,373.26 303.90,371.94 304.50,371.18 305.10,371.98 305.70,371.23 306.30,371.32 306.90,370.35 307.50,370.64 308.10,370.09 308.70,369.65 309.30,369.18 309.90,368.76 310.50,368.31 311.10,367.82 311.70,367.64 312.30,366.22 312.90,366.85 313.50,365.24 314.10,365.24 314.70,364.05 315.30,363.36 315.90,364.02 316.50,362.25 317.10,361.27 317.70,361.13 318.30,360.90 318.90,361.81 319.50,360.29 320.10,360.24 320.70,358.72 321.30,358.97 321.90,358.41 322.50,358.29 323.10,356.18 323.70,356.15 324.30,355.25 324.90,353.78 325.50,353.60 326.10,352.72 326.70,350.85 327.30,351.70 327.90,350.92 328.50,349.63 329.10,348.39 329.70,349.19 330.30,347.77 330.90,347.43 331.50,346.90 332.10,345.37 332.70,345.70 333.30,344.71 333.90,344.40 334.50,343.98 335.10,343.62 335.70,343.82 336.30,342.87 336.90,342.97 337.50,343.17 338.10,343.76 338.70,343.34 339.30,343.82 339.90,344.33 340.50,344.30 341.10,345.03 341.70,345.36 342.30,347.40 342.90,347.63 343.50,347.75 344.10,348.07 344.70,349.90 345.30,349.48 345.90,349.85 346.50,350.81 347.10,351.55 347.70,352.89 348.30,352.84 348.90,354.75 349.50,353.85 350.10,355.45 350.70,355.26 351.30,357.55 351.90,357.14 352.50,358.05 353.10,359.36 353.70,360.30 354.30,359.77 354.90,360.95 355.50,361.14 356.10,362.75 356.70,363.24 357.30,363.71 357.90,364.12 358.50,364.89 359.10,365.29 359.70,366.59 360.30,367.73 360.90,366.44 361.50,368.00 362.10,368.19 362.70,369.05 363.30,368.62 363.90,369.42 364.50,369.29 365.10,370.60 365.70,370.63 366.30,370.85 366.90,371.50 367.50,371.52 368.10,371.14 368.70,372.61 369.30,372.73 369.90,372.77 370.50,373.68 371.10,374.10 371.70,373.11 372.30,373.57 372.90,375.14 373.50,375.35 374.10,374.45 374.70,374.45 375.30,374.94 375.90,375.21 376.50,374.81 377.10,375.89 377.70,375.36 378.30,375.59 378.90,376.96 379.50,376.27 380.10,376.80 380.70,377.38 381.30,377.65 381.90,377.16 382.50,377.52" fill="none" stroke="#d8162a" stroke-width="1.9" stroke-linejoin="round"/>
<rect x="287.1" y="331.5" width="98.30" height="47.9" fill="none" stroke="#000" stroke-width="1.3"/>
<text x="290.42" y="341.00" font-size="11" stroke="#000" stroke-width="0.25" font-weight="bold" textLength="27.26" lengthAdjust="spacingAndGlyphs">P300</text>
<line x1="291.50" y1="379.40" x2="291.50" y2="383.40" stroke="#000" stroke-width="1.5"/>
<text x="291.50" y="390.00" font-size="8.2" stroke="#000" stroke-width="0.25" font-weight="bold" text-anchor="middle">-4</text>
<line x1="314.00" y1="379.40" x2="314.00" y2="383.40" stroke="#000" stroke-width="1.5"/>
<text x="314.00" y="390.00" font-size="8.2" stroke="#000" stroke-width="0.25" font-weight="bold" text-anchor="middle">-2</text>
<line x1="336.50" y1="379.40" x2="336.50" y2="383.40" stroke="#000" stroke-width="1.5"/>
<text x="336.50" y="390.00" font-size="8.2" stroke="#000" stroke-width="0.25" font-weight="bold" text-anchor="middle">0</text>
<line x1="359.00" y1="379.40" x2="359.00" y2="383.40" stroke="#000" stroke-width="1.5"/>
<text x="359.00" y="390.00" font-size="8.2" stroke="#000" stroke-width="0.25" font-weight="bold" text-anchor="middle">2</text>
<line x1="381.50" y1="379.40" x2="381.50" y2="383.40" stroke="#000" stroke-width="1.5"/>
<text x="381.50" y="390.00" font-size="8.2" stroke="#000" stroke-width="0.25" font-weight="bold" text-anchor="middle">4</text>
<text x="257.90" y="244.38" font-size="10.2" stroke="#000" stroke-width="0.1" font-weight="bold" textLength="112.89" lengthAdjust="spacingAndGlyphs" transform="rotate(-90 257.90 244.38)">Log2 ratio (chip / input)</text>
<line x1="420.80" y1="18.50" x2="516.70" y2="18.50" stroke="#6c6c6c" stroke-width="1" stroke-dasharray="1 1"/>
<line x1="420.80" y1="26.50" x2="516.70" y2="26.50" stroke="#6c6c6c" stroke-width="1" stroke-dasharray="1 1"/>
<line x1="420.80" y1="33.50" x2="516.70" y2="33.50" stroke="#6c6c6c" stroke-width="1" stroke-dasharray="1 1"/>
<line x1="420.80" y1="40.50" x2="516.70" y2="40.50" stroke="#6c6c6c" stroke-width="1" stroke-dasharray="1 1"/>
<line x1="420.80" y1="48.50" x2="516.70" y2="48.50" stroke="#6c6c6c" stroke-width="1" stroke-dasharray="1 1"/>
<line x1="420.80" y1="55.50" x2="516.70" y2="55.50" stroke="#6c6c6c" stroke-width="1" stroke-dasharray="1 1"/>
<line x1="424.50" y1="17.50" x2="424.50" y2="63.80" stroke="#6c6c6c" stroke-width="1" stroke-dasharray="1 1.5"/>
<line x1="454.50" y1="17.50" x2="454.50" y2="63.80" stroke="#6c6c6c" stroke-width="1" stroke-dasharray="1 1.5"/>
<line x1="484.50" y1="17.50" x2="484.50" y2="63.80" stroke="#6c6c6c" stroke-width="1" stroke-dasharray="1 1.5"/>
<line x1="513.50" y1="17.50" x2="513.50" y2="63.80" stroke="#6c6c6c" stroke-width="1" stroke-dasharray="1 1.5"/>
<line x1="415.30" y1="18.60" x2="419.30" y2="18.60" stroke="#000" stroke-width="1.5"/>
<text x="414.70" y="21.10" font-size="8.4" stroke="#000" stroke-width="0.25" font-weight="bold" text-anchor="end" textLength="17.00" lengthAdjust="spacingAndGlyphs">1.50</text>
<line x1="415.30" y1="26.02" x2="419.30" y2="26.02" stroke="#000" stroke-width="1.5"/>
<text x="414.70" y="28.52" font-size="8.4" stroke="#000" stroke-width="0.25" font-weight="bold" text-anchor="end" textLength="17.00" lengthAdjust="spacingAndGlyphs">1.25</text>
<line x1="415.30" y1="33.43" x2="419.30" y2="33.43" stroke="#000" stroke-width="1.5"/>
<text x="414.70" y="35.93" font-size="8.4" stroke="#000" stroke-width="0.25" font-weight="bold" text-anchor="end" textLength="17.00" lengthAdjust="spacingAndGlyphs">1.00</text>
<line x1="415.30" y1="40.85" x2="419.30" y2="40.85" stroke="#000" stroke-width="1.5"/>
<text x="414.70" y="43.35" font-size="8.4" stroke="#000" stroke-width="0.25" font-weight="bold" text-anchor="end" textLength="17.00" lengthAdjust="spacingAndGlyphs">0.75</text>
<line x1="415.30" y1="48.27" x2="419.30" y2="48.27" stroke="#000" stroke-width="1.5"/>
<text x="414.70" y="50.77" font-size="8.4" stroke="#000" stroke-width="0.25" font-weight="bold" text-anchor="end" textLength="17.00" lengthAdjust="spacingAndGlyphs">0.50</text>
<line x1="415.30" y1="55.68" x2="419.30" y2="55.68" stroke="#000" stroke-width="1.5"/>
<text x="414.70" y="58.18" font-size="8.4" stroke="#000" stroke-width="0.25" font-weight="bold" text-anchor="end" textLength="17.00" lengthAdjust="spacingAndGlyphs">0.25</text>
<line x1="415.30" y1="63.10" x2="419.30" y2="63.10" stroke="#000" stroke-width="1.5"/>
<text x="414.70" y="65.60" font-size="8.4" stroke="#000" stroke-width="0.25" font-weight="bold" text-anchor="end" textLength="17.00" lengthAdjust="spacingAndGlyphs">0.00</text>
<polyline points="423.90,35.27 424.50,36.16 425.10,35.58 425.70,34.73 426.30,35.03 426.90,35.17 427.50,34.94 428.10,35.34 428.70,35.01 429.30,34.10 429.90,34.13 430.50,33.46 431.10,33.88 431.70,33.65 432.30,34.48 432.90,33.24 433.50,32.17 434.10,32.55 434.70,32.67 435.30,31.93 435.90,31.85 436.50,31.73 437.10,31.69 437.70,31.17 438.30,30.56 438.90,30.92 439.50,30.07 440.10,29.77 440.70,29.13 441.30,29.24 441.90,29.70 442.50,28.67 443.10,29.16 443.70,29.35 444.30,28.79 444.90,28.92 445.50,28.25 446.10,29.38 446.70,29.45 447.30,29.26 447.90,28.61 448.50,29.05 449.10,30.01 449.70,30.31 450.30,29.59 450.90,29.81 451.50,28.92 452.10,28.93 452.70,28.85 453.30,28.87 453.90,28.46 454.50,29.81 455.10,30.34 455.70,29.72 456.30,30.00 456.90,31.06 457.50,30.93 458.10,30.44 458.70,31.91 459.30,31.84 459.90,31.78 460.50,33.01 461.10,32.41 461.70,32.25 462.30,32.78 462.90,32.52 463.50,32.82 464.10,33.46 464.70,33.27 465.30,33.50 465.90,34.53 466.50,34.39 467.10,34.58 467.70,34.83 468.30,35.17 468.90,35.92 469.50,35.69 470.10,36.80 470.70,36.04 471.30,36.87 471.90,37.18 472.50,38.35 473.10,39.45 473.70,40.57 474.30,40.48 474.90,41.50 475.50,42.11 476.10,42.71 476.70,43.29 477.30,44.54 477.90,44.58 478.50,46.07 479.10,46.76 479.70,47.19 480.30,47.75 480.90,48.30 481.50,50.30 482.10,49.51 482.70,50.96 483.30,50.86 483.90,50.77 484.50,50.74 485.10,51.66 485.70,51.84 486.30,50.68 486.90,50.84 487.50,51.29 488.10,50.91 488.70,51.50 489.30,50.50 489.90,50.96 490.50,50.26 491.10,51.62 491.70,50.51 492.30,49.94 492.90,50.80 493.50,50.81 494.10,51.65 494.70,50.58 495.30,50.18 495.90,49.88 496.50,49.74 497.10,48.54 497.70,48.44 498.30,47.70 498.90,46.65 499.50,46.05 500.10,45.28 500.70,44.14 501.30,44.24 501.90,42.45 502.50,42.77 503.10,42.10 503.70,41.09 504.30,40.23 504.90,39.86 505.50,39.55 506.10,39.07 506.70,38.30 507.30,38.00 507.90,36.76 508.50,36.46 509.10,35.13 509.70,35.44 510.30,34.58 510.90,33.74 511.50,33.72 512.10,32.85 512.70,30.77 513.30,31.23 513.90,29.95" fill="none" stroke="#d4162c" stroke-width="1.6" stroke-linejoin="round"/>
<rect x="419.3" y="16.9" width="98.40" height="47.9" fill="none" stroke="#000" stroke-width="1.3"/>
<text x="422.43" y="26.20" font-size="11" stroke="#000" stroke-width="0.25" font-weight="bold" textLength="29.41" lengthAdjust="spacingAndGlyphs">H3Ac</text>
<line x1="420.80" y1="71.50" x2="516.70" y2="71.50" stroke="#6c6c6c" stroke-width="1" stroke-dasharray="1 1"/>
<line x1="420.80" y1="78.50" x2="516.70" y2="78.50" stroke="#6c6c6c" stroke-width="1" stroke-dasharray="1 1"/>
<line x1="420.80" y1="86.50" x2="516.70" y2="86.50" stroke="#6c6c6c" stroke-width="1" stroke-dasharray="1 1"/>
<line x1="420.80" y1="93.50" x2="516.70" y2="93.50" stroke="#6c6c6c" stroke-width="1" stroke-dasharray="1 1"/>
<line x1="420.80" y1="100.50" x2="516.70" y2="100.50" stroke="#6c6c6c" stroke-width="1" stroke-dasharray="1 1"/>
<line x1="420.80" y1="108.50" x2="516.70" y2="108.50" stroke="#6c6c6c" stroke-width="1" stroke-dasharray="1 1"/>
<line x1="424.50" y1="70.50" x2="424.50" y2="116.40" stroke="#6c6c6c" stroke-width="1" stroke-dasharray="1 1.5"/>
<line x1="454.50" y1="70.50" x2="454.50" y2="116.40" stroke="#6c6c6c" stroke-width="1" stroke-dasharray="1 1.5"/>
<line x1="484.50" y1="70.50" x2="484.50" y2="116.40" stroke="#6c6c6c" stroke-width="1" stroke-dasharray="1 1.5"/>
<line x1="513.50" y1="70.50" x2="513.50" y2="116.40" stroke="#6c6c6c" stroke-width="1" stroke-dasharray="1 1.5"/>
<line x1="415.30" y1="71.20" x2="419.30" y2="71.20" stroke="#000" stroke-width="1.5"/>
<text x="414.70" y="73.70" font-size="8.4" stroke="#000" stroke-width="0.25" font-weight="bold" text-anchor="end" textLength="17.00" lengthAdjust="spacingAndGlyphs">1.50</text>
<line x1="415.30" y1="78.62" x2="419.30" y2="78.62" stroke="#000" stroke-width="1.5"/>
<text x="414.70" y="81.12" font-size="8.4" stroke="#000" stroke-width="0.25" font-weight="bold" text-anchor="end" textLength="17.00" lengthAdjust="spacingAndGlyphs">1.25</text>
<line x1="415.30" y1="86.03" x2="419.30" y2="86.03" stroke="#000" stroke-width="1.5"/>
<text x="414.70" y="88.53" font-size="8.4" stroke="#000" stroke-width="0.25" font-weight="bold" text-anchor="end" textLength="17.00" lengthAdjust="spacingAndGlyphs">1.00</text>
<line x1="415.30" y1="93.45" x2="419.30" y2="93.45" stroke="#000" stroke-width="1.5"/>
<text x="414.70" y="95.95" font-size="8.4" stroke="#000" stroke-width="0.25" font-weight="bold" text-anchor="end" textLength="17.00" lengthAdjust="spacingAndGlyphs">0.75</text>
<line x1="415.30" y1="100.87" x2="419.30" y2="100.87" stroke="#000" stroke-width="1.5"/>
<text x="414.70" y="103.37" font-size="8.4" stroke="#000" stroke-width="0.25" font-weight="bold" text-anchor="end" textLength="17.00" lengthAdjust="spacingAndGlyphs">0.50</text>
<line x1="415.30" y1="108.28" x2="419.30" y2="108.28" stroke="#000" stroke-width="1.5"/>
<text x="414.70" y="110.78" font-size="8.4" stroke="#000" stroke-width="0.25" font-weight="bold" text-anchor="end" textLength="17.00" lengthAdjust="spacingAndGlyphs">0.25</text>
<line x1="415.30" y1="115.70" x2="419.30" y2="115.70" stroke="#000" stroke-width="1.5"/>
<text x="414.70" y="118.20" font-size="8.4" stroke="#000" stroke-width="0.25" font-weight="bold" text-anchor="end" textLength="17.00" lengthAdjust="spacingAndGlyphs">0.00</text>
<polyline points="423.90,109.13 424.50,109.77 425.10,108.65 425.70,108.97 426.30,108.91 426.90,109.23 427.50,109.43 428.10,109.77 428.70,108.93 429.30,110.04 429.90,109.11 430.50,109.57 431.10,109.87 431.70,109.64 432.30,108.93 432.90,108.98 433.50,109.02 434.10,109.14 434.70,109.57 435.30,108.54 435.90,109.20 436.50,109.21 437.10,109.16 437.70,109.08 438.30,109.47 438.90,109.02 439.50,109.13 440.10,108.98 440.70,109.44 441.30,108.00 441.90,109.39 442.50,108.90 443.10,109.01 443.70,108.85 444.30,108.61 444.90,109.33 445.50,109.23 446.10,109.70 446.70,108.91 447.30,110.07 447.90,109.90 448.50,110.04 449.10,110.20 449.70,110.51 450.30,110.75 450.90,111.38 451.50,112.00 452.10,112.33 452.70,112.23 453.30,113.07 453.90,113.16 454.50,113.93 455.10,114.95 455.70,114.80 456.30,114.77 456.90,114.35 457.50,114.53 458.10,114.52 458.70,115.58 459.30,115.08 459.90,115.51 460.50,115.26 461.10,115.55 461.70,116.08 462.30,115.25 462.90,115.39 463.50,115.21 464.10,115.89 464.70,115.14 465.30,115.10 465.90,115.00 466.50,115.00 467.10,115.76 467.70,116.60 468.30,115.18 468.90,115.97 469.50,115.70 470.10,115.16 470.70,115.49 471.30,115.51 471.90,115.32 472.50,116.37 473.10,114.84 473.70,115.75 474.30,115.73 474.90,115.37 475.50,115.66 476.10,115.95 476.70,115.66 477.30,115.77 477.90,115.88 478.50,114.79 479.10,116.19 479.70,116.51 480.30,115.99 480.90,116.01 481.50,115.04 482.10,115.55 482.70,115.28 483.30,115.37 483.90,115.99 484.50,115.28 485.10,115.55 485.70,114.84 486.30,115.54 486.90,115.64 487.50,115.32 488.10,115.31 488.70,116.35 489.30,115.12 489.90,115.18 490.50,115.28 491.10,116.08 491.70,116.44 492.30,115.73 492.90,115.31 493.50,115.43 494.10,116.03 494.70,115.24 495.30,116.18 495.90,116.17 496.50,115.63 497.10,115.86 497.70,115.90 498.30,116.22 498.90,115.18 499.50,116.07 500.10,115.45 500.70,115.29 501.30,115.64 501.90,115.51 502.50,115.21 503.10,114.96 503.70,115.22 504.30,116.18 504.90,116.39 505.50,115.86 506.10,116.07 506.70,115.39 507.30,115.57 507.90,115.71 508.50,115.17 509.10,115.20 509.70,115.64 510.30,115.47 510.90,115.17 511.50,115.75 512.10,115.49 512.70,116.01 513.30,115.60 513.90,115.48" fill="none" stroke="#d4162c" stroke-width="1.6" stroke-linejoin="round"/>
<rect x="419.3" y="69.5" width="98.40" height="47.9" fill="none" stroke="#000" stroke-width="1.3"/>
<text x="421.73" y="78.20" font-size="11" stroke="#000" stroke-width="0.25" font-weight="bold" textLength="52.18" lengthAdjust="spacingAndGlyphs">H3K4me1</text>
<line x1="420.80" y1="123.50" x2="516.70" y2="123.50" stroke="#6c6c6c" stroke-width="1" stroke-dasharray="1 1"/>
<line x1="420.80" y1="130.50" x2="516.70" y2="130.50" stroke="#6c6c6c" stroke-width="1" stroke-dasharray="1 1"/>
<line x1="420.80" y1="138.50" x2="516.70" y2="138.50" stroke="#6c6c6c" stroke-width="1" stroke-dasharray="1 1"/>
<line x1="420.80" y1="145.50" x2="516.70" y2="145.50" stroke="#6c6c6c" stroke-width="1" stroke-dasharray="1 1"/>
<line x1="420.80" y1="152.50" x2="516.70" y2="152.50" stroke="#6c6c6c" stroke-width="1" stroke-dasharray="1 1"/>
<line x1="420.80" y1="160.50" x2="516.70" y2="160.50" stroke="#6c6c6c" stroke-width="1" stroke-dasharray="1 1"/>
<line x1="424.50" y1="122.50" x2="424.50" y2="168.40" stroke="#6c6c6c" stroke-width="1" stroke-dasharray="1 1.5"/>
<line x1="454.50" y1="122.50" x2="454.50" y2="168.40" stroke="#6c6c6c" stroke-width="1" stroke-dasharray="1 1.5"/>
<line x1="484.50" y1="122.50" x2="484.50" y2="168.40" stroke="#6c6c6c" stroke-width="1" stroke-dasharray="1 1.5"/>
<line x1="513.50" y1="122.50" x2="513.50" y2="168.40" stroke="#6c6c6c" stroke-width="1" stroke-dasharray="1 1.5"/>
<line x1="415.30" y1="123.20" x2="419.30" y2="123.20" stroke="#000" stroke-width="1.5"/>
<text x="414.70" y="125.70" font-size="8.4" stroke="#000" stroke-width="0.25" font-weight="bold" text-anchor="end" textLength="17.00" lengthAdjust="spacingAndGlyphs">1.50</text>
<line x1="415.30" y1="130.62" x2="419.30" y2="130.62" stroke="#000" stroke-width="1.5"/>
<text x="414.70" y="133.12" font-size="8.4" stroke="#000" stroke-width="0.25" font-weight="bold" text-anchor="end" textLength="17.00" lengthAdjust="spacingAndGlyphs">1.25</text>
<line x1="415.30" y1="138.03" x2="419.30" y2="138.03" stroke="#000" stroke-width="1.5"/>
<text x="414.70" y="140.53" font-size="8.4" stroke="#000" stroke-width="0.25" font-weight="bold" text-anchor="end" textLength="17.00" lengthAdjust="spacingAndGlyphs">1.00</text>
<line x1="415.30" y1="145.45" x2="419.30" y2="145.45" stroke="#000" stroke-width="1.5"/>
<text x="414.70" y="147.95" font-size="8.4" stroke="#000" stroke-width="0.25" font-weight="bold" text-anchor="end" textLength="17.00" lengthAdjust="spacingAndGlyphs">0.75</text>
<line x1="415.30" y1="152.87" x2="419.30" y2="152.87" stroke="#000" stroke-width="1.5"/>
<text x="414.70" y="155.37" font-size="8.4" stroke="#000" stroke-width="0.25" font-weight="bold" text-anchor="end" textLength="17.00" lengthAdjust="spacingAndGlyphs">0.50</text>
<line x1="415.30" y1="160.28" x2="419.30" y2="160.28" stroke="#000" stroke-width="1.5"/>
<text x="414.70" y="162.78" font-size="8.4" stroke="#000" stroke-width="0.25" font-weight="bold" text-anchor="end" textLength="17.00" lengthAdjust="spacingAndGlyphs">0.25</text>
<line x1="415.30" y1="167.70" x2="419.30" y2="167.70" stroke="#000" stroke-width="1.5"/>
<text x="414.70" y="170.20" font-size="8.4" stroke="#000" stroke-width="0.25" font-weight="bold" text-anchor="end" textLength="17.00" lengthAdjust="spacingAndGlyphs">0.00</text>
<polyline points="423.90,133.15 424.50,133.22 425.10,133.20 425.70,133.49 426.30,134.14 426.90,134.28 427.50,134.72 428.10,133.43 428.70,133.57 429.30,133.17 429.90,133.02 430.50,132.39 431.10,131.98 431.70,132.11 432.30,131.73 432.90,131.05 433.50,131.91 434.10,131.63 434.70,130.86 435.30,131.28 435.90,130.51 436.50,131.11 437.10,130.43 437.70,130.06 438.30,130.11 438.90,129.83 439.50,130.09 440.10,129.96 440.70,129.78 441.30,129.42 441.90,128.06 442.50,129.44 443.10,128.52 443.70,129.32 444.30,129.73 444.90,129.45 445.50,129.25 446.10,129.39 446.70,129.47 447.30,129.37 447.90,129.41 448.50,129.34 449.10,130.24 449.70,129.75 450.30,130.04 450.90,129.47 451.50,129.51 452.10,129.32 452.70,129.48 453.30,129.53 453.90,129.70 454.50,129.73 455.10,130.09 455.70,131.46 456.30,131.09 456.90,131.48 457.50,132.60 458.10,132.89 458.70,133.10 459.30,133.16 459.90,134.70 460.50,134.35 461.10,134.85 461.70,135.00 462.30,134.95 462.90,135.43 463.50,136.57 464.10,137.01 464.70,137.21 465.30,137.38 465.90,138.03 466.50,139.23 467.10,139.53 467.70,141.23 468.30,142.08 468.90,143.51 469.50,143.61 470.10,143.93 470.70,144.72 471.30,144.60 471.90,146.65 472.50,147.72 473.10,149.01 473.70,149.53 474.30,150.18 474.90,150.69 475.50,151.53 476.10,152.51 476.70,152.16 477.30,152.72 477.90,152.58 478.50,154.03 479.10,154.14 479.70,154.16 480.30,153.62 480.90,154.38 481.50,154.30 482.10,154.51 482.70,154.49 483.30,154.85 483.90,154.44 484.50,154.63 485.10,154.08 485.70,153.56 486.30,153.32 486.90,152.88 487.50,153.08 488.10,152.30 488.70,152.19 489.30,151.57 489.90,150.78 490.50,151.39 491.10,150.26 491.70,150.55 492.30,149.73 492.90,148.17 493.50,147.73 494.10,147.18 494.70,146.34 495.30,145.47 495.90,145.52 496.50,144.40 497.10,143.93 497.70,142.88 498.30,142.45 498.90,141.31 499.50,140.88 500.10,140.40 500.70,139.46 501.30,138.54 501.90,137.52 502.50,137.25 503.10,136.55 503.70,135.54 504.30,134.56 504.90,134.32 505.50,134.32 506.10,132.44 506.70,132.18 507.30,131.81 507.90,130.25 508.50,130.94 509.10,130.22 509.70,130.67 510.30,129.60 510.90,128.83 511.50,128.49 512.10,128.08 512.70,127.22 513.30,126.86" fill="none" stroke="#d4162c" stroke-width="1.6" stroke-linejoin="round"/>
<rect x="419.3" y="121.5" width="98.40" height="47.9" fill="none" stroke="#000" stroke-width="1.3"/>
<text x="422.13" y="165.50" font-size="11" stroke="#000" stroke-width="0.25" font-weight="bold" textLength="52.49" lengthAdjust="spacingAndGlyphs">H3K4me3</text>
<line x1="420.80" y1="175.50" x2="516.70" y2="175.50" stroke="#6c6c6c" stroke-width="1" stroke-dasharray="1 1"/>
<line x1="420.80" y1="182.50" x2="516.70" y2="182.50" stroke="#6c6c6c" stroke-width="1" stroke-dasharray="1 1"/>
<line x1="420.80" y1="189.50" x2="516.70" y2="189.50" stroke="#6c6c6c" stroke-width="1" stroke-dasharray="1 1"/>
<line x1="420.80" y1="197.50" x2="516.70" y2="197.50" stroke="#6c6c6c" stroke-width="1" stroke-dasharray="1 1"/>
<line x1="420.80" y1="204.50" x2="516.70" y2="204.50" stroke="#6c6c6c" stroke-width="1" stroke-dasharray="1 1"/>
<line x1="420.80" y1="212.50" x2="516.70" y2="212.50" stroke="#6c6c6c" stroke-width="1" stroke-dasharray="1 1"/>
<line x1="424.50" y1="174.50" x2="424.50" y2="220.20" stroke="#6c6c6c" stroke-width="1" stroke-dasharray="1 1.5"/>
<line x1="454.50" y1="174.50" x2="454.50" y2="220.20" stroke="#6c6c6c" stroke-width="1" stroke-dasharray="1 1.5"/>
<line x1="484.50" y1="174.50" x2="484.50" y2="220.20" stroke="#6c6c6c" stroke-width="1" stroke-dasharray="1 1.5"/>
<line x1="513.50" y1="174.50" x2="513.50" y2="220.20" stroke="#6c6c6c" stroke-width="1" stroke-dasharray="1 1.5"/>
<line x1="415.30" y1="175.00" x2="419.30" y2="175.00" stroke="#000" stroke-width="1.5"/>
<text x="414.70" y="177.50" font-size="8.4" stroke="#000" stroke-width="0.25" font-weight="bold" text-anchor="end" textLength="17.00" lengthAdjust="spacingAndGlyphs">1.50</text>
<line x1="415.30" y1="182.42" x2="419.30" y2="182.42" stroke="#000" stroke-width="1.5"/>
<text x="414.70" y="184.92" font-size="8.4" stroke="#000" stroke-width="0.25" font-weight="bold" text-anchor="end" textLength="17.00" lengthAdjust="spacingAndGlyphs">1.25</text>
<line x1="415.30" y1="189.83" x2="419.30" y2="189.83" stroke="#000" stroke-width="1.5"/>
<text x="414.70" y="192.33" font-size="8.4" stroke="#000" stroke-width="0.25" font-weight="bold" text-anchor="end" textLength="17.00" lengthAdjust="spacingAndGlyphs">1.00</text>
<line x1="415.30" y1="197.25" x2="419.30" y2="197.25" stroke="#000" stroke-width="1.5"/>
<text x="414.70" y="199.75" font-size="8.4" stroke="#000" stroke-width="0.25" font-weight="bold" text-anchor="end" textLength="17.00" lengthAdjust="spacingAndGlyphs">0.75</text>
<line x1="415.30" y1="204.67" x2="419.30" y2="204.67" stroke="#000" stroke-width="1.5"/>
<text x="414.70" y="207.17" font-size="8.4" stroke="#000" stroke-width="0.25" font-weight="bold" text-anchor="end" textLength="17.00" lengthAdjust="spacingAndGlyphs">0.50</text>
<line x1="415.30" y1="212.08" x2="419.30" y2="212.08" stroke="#000" stroke-width="1.5"/>
<text x="414.70" y="214.58" font-size="8.4" stroke="#000" stroke-width="0.25" font-weight="bold" text-anchor="end" textLength="17.00" lengthAdjust="spacingAndGlyphs">0.25</text>
<line x1="415.30" y1="219.50" x2="419.30" y2="219.50" stroke="#000" stroke-width="1.5"/>
<text x="414.70" y="222.00" font-size="8.4" stroke="#000" stroke-width="0.25" font-weight="bold" text-anchor="end" textLength="17.00" lengthAdjust="spacingAndGlyphs">0.00</text>
<polyline points="423.90,199.86 424.50,200.12 425.10,200.32 425.70,200.61 426.30,199.91 426.90,199.54 427.50,199.71 428.10,199.46 428.70,199.52 429.30,199.09 429.90,198.45 430.50,198.60 431.10,198.57 431.70,198.62 432.30,198.58 432.90,198.19 433.50,197.66 434.10,198.23 434.70,197.69 435.30,198.53 435.90,198.49 436.50,197.77 437.10,198.68 437.70,198.71 438.30,198.36 438.90,198.95 439.50,198.99 440.10,197.71 440.70,198.57 441.30,198.29 441.90,198.36 442.50,198.69 443.10,198.16 443.70,198.35 444.30,198.39 444.90,198.55 445.50,198.94 446.10,198.53 446.70,198.83 447.30,199.61 447.90,199.32 448.50,199.45 449.10,198.48 449.70,198.86 450.30,198.89 450.90,199.07 451.50,198.76 452.10,199.31 452.70,199.08 453.30,199.71 453.90,200.31 454.50,201.18 455.10,201.31 455.70,202.42 456.30,202.35 456.90,202.43 457.50,202.58 458.10,202.97 458.70,203.37 459.30,203.54 459.90,203.52 460.50,203.84 461.10,203.65 461.70,204.21 462.30,203.81 462.90,203.10 463.50,204.58 464.10,204.19 464.70,203.79 465.30,204.29 465.90,204.13 466.50,205.47 467.10,204.99 467.70,204.33 468.30,205.33 468.90,205.11 469.50,206.20 470.10,205.17 470.70,204.85 471.30,205.94 471.90,205.93 472.50,206.08 473.10,205.57 473.70,206.78 474.30,207.46 474.90,206.21 475.50,207.62 476.10,207.10 476.70,208.45 477.30,207.86 477.90,207.79 478.50,208.42 479.10,208.29 479.70,207.94 480.30,208.55 480.90,208.16 481.50,207.74 482.10,209.37 482.70,208.51 483.30,208.42 483.90,208.73 484.50,207.90 485.10,207.91 485.70,208.18 486.30,208.10 486.90,208.26 487.50,208.61 488.10,207.90 488.70,208.20 489.30,208.15 489.90,207.39 490.50,207.83 491.10,207.27 491.70,207.99 492.30,207.66 492.90,207.39 493.50,206.76 494.10,207.17 494.70,206.65 495.30,207.07 495.90,206.57 496.50,206.12 497.10,206.64 497.70,206.39 498.30,205.69 498.90,206.20 499.50,205.43 500.10,205.23 500.70,205.21 501.30,204.67 501.90,204.60 502.50,204.52 503.10,205.00 503.70,204.79 504.30,203.90 504.90,204.48 505.50,203.66 506.10,203.66 506.70,203.70 507.30,203.30 507.90,203.99 508.50,202.96 509.10,202.22 509.70,203.06 510.30,202.19 510.90,201.96 511.50,200.61 512.10,201.93 512.70,201.58 513.30,201.30" fill="none" stroke="#d4162c" stroke-width="1.6" stroke-linejoin="round"/>
<rect x="419.3" y="173.3" width="98.40" height="47.9" fill="none" stroke="#000" stroke-width="1.3"/>
<text x="422.12" y="185.10" font-size="11" stroke="#000" stroke-width="0.25" font-weight="bold" textLength="59.50" lengthAdjust="spacingAndGlyphs">H3K27me3</text>
<line x1="420.80" y1="227.50" x2="516.70" y2="227.50" stroke="#6c6c6c" stroke-width="1" stroke-dasharray="1 1"/>
<line x1="420.80" y1="235.50" x2="516.70" y2="235.50" stroke="#6c6c6c" stroke-width="1" stroke-dasharray="1 1"/>
<line x1="420.80" y1="242.50" x2="516.70" y2="242.50" stroke="#6c6c6c" stroke-width="1" stroke-dasharray="1 1"/>
<line x1="420.80" y1="250.50" x2="516.70" y2="250.50" stroke="#6c6c6c" stroke-width="1" stroke-dasharray="1 1"/>
<line x1="420.80" y1="257.50" x2="516.70" y2="257.50" stroke="#6c6c6c" stroke-width="1" stroke-dasharray="1 1"/>
<line x1="420.80" y1="264.50" x2="516.70" y2="264.50" stroke="#6c6c6c" stroke-width="1" stroke-dasharray="1 1"/>
<line x1="424.50" y1="227.50" x2="424.50" y2="273.00" stroke="#6c6c6c" stroke-width="1" stroke-dasharray="1 1.5"/>
<line x1="454.50" y1="227.50" x2="454.50" y2="273.00" stroke="#6c6c6c" stroke-width="1" stroke-dasharray="1 1.5"/>
<line x1="484.50" y1="227.50" x2="484.50" y2="273.00" stroke="#6c6c6c" stroke-width="1" stroke-dasharray="1 1.5"/>
<line x1="513.50" y1="227.50" x2="513.50" y2="273.00" stroke="#6c6c6c" stroke-width="1" stroke-dasharray="1 1.5"/>
<line x1="415.30" y1="227.80" x2="419.30" y2="227.80" stroke="#000" stroke-width="1.5"/>
<text x="414.70" y="230.30" font-size="8.4" stroke="#000" stroke-width="0.25" font-weight="bold" text-anchor="end" textLength="17.00" lengthAdjust="spacingAndGlyphs">1.50</text>
<line x1="415.30" y1="235.22" x2="419.30" y2="235.22" stroke="#000" stroke-width="1.5"/>
<text x="414.70" y="237.72" font-size="8.4" stroke="#000" stroke-width="0.25" font-weight="bold" text-anchor="end" textLength="17.00" lengthAdjust="spacingAndGlyphs">1.25</text>
<line x1="415.30" y1="242.63" x2="419.30" y2="242.63" stroke="#000" stroke-width="1.5"/>
<text x="414.70" y="245.13" font-size="8.4" stroke="#000" stroke-width="0.25" font-weight="bold" text-anchor="end" textLength="17.00" lengthAdjust="spacingAndGlyphs">1.00</text>
<line x1="415.30" y1="250.05" x2="419.30" y2="250.05" stroke="#000" stroke-width="1.5"/>
<text x="414.70" y="252.55" font-size="8.4" stroke="#000" stroke-width="0.25" font-weight="bold" text-anchor="end" textLength="17.00" lengthAdjust="spacingAndGlyphs">0.75</text>
<line x1="415.30" y1="257.47" x2="419.30" y2="257.47" stroke="#000" stroke-width="1.5"/>
<text x="414.70" y="259.97" font-size="8.4" stroke="#000" stroke-width="0.25" font-weight="bold" text-anchor="end" textLength="17.00" lengthAdjust="spacingAndGlyphs">0.50</text>
<line x1="415.30" y1="264.88" x2="419.30" y2="264.88" stroke="#000" stroke-width="1.5"/>
<text x="414.70" y="267.38" font-size="8.4" stroke="#000" stroke-width="0.25" font-weight="bold" text-anchor="end" textLength="17.00" lengthAdjust="spacingAndGlyphs">0.25</text>
<line x1="415.30" y1="272.30" x2="419.30" y2="272.30" stroke="#000" stroke-width="1.5"/>
<text x="414.70" y="274.80" font-size="8.4" stroke="#000" stroke-width="0.25" font-weight="bold" text-anchor="end" textLength="17.00" lengthAdjust="spacingAndGlyphs">0.00</text>
<polyline points="423.90,254.39 424.50,254.72 425.10,254.06 425.70,254.50 426.30,253.87 426.90,254.06 427.50,254.67 428.10,254.44 428.70,253.79 429.30,254.51 429.90,254.31 430.50,253.93 431.10,254.31 431.70,253.85 432.30,253.26 432.90,253.32 433.50,254.35 434.10,252.91 434.70,253.48 435.30,253.52 435.90,253.40 436.50,252.54 437.10,252.77 437.70,252.83 438.30,252.95 438.90,252.23 439.50,251.88 440.10,252.61 440.70,252.51 441.30,252.07 441.90,251.54 442.50,251.80 443.10,251.54 443.70,251.76 444.30,250.98 444.90,251.59 445.50,251.54 446.10,251.22 446.70,251.81 447.30,251.80 447.90,251.68 448.50,252.07 449.10,251.40 449.70,252.05 450.30,252.39 450.90,252.47 451.50,252.93 452.10,252.16 452.70,252.18 453.30,253.02 453.90,253.25 454.50,254.06 455.10,253.60 455.70,253.15 456.30,253.96 456.90,253.44 457.50,253.33 458.10,255.11 458.70,254.34 459.30,254.64 459.90,254.72 460.50,255.36 461.10,254.89 461.70,255.45 462.30,254.75 462.90,254.80 463.50,256.12 464.10,256.34 464.70,256.15 465.30,256.23 465.90,256.41 466.50,256.26 467.10,257.36 467.70,257.27 468.30,257.48 468.90,257.69 469.50,258.22 470.10,258.27 470.70,258.63 471.30,258.13 471.90,259.06 472.50,260.00 473.10,259.22 473.70,259.78 474.30,260.58 474.90,261.00 475.50,261.27 476.10,260.77 476.70,262.01 477.30,261.74 477.90,262.28 478.50,263.22 479.10,263.28 479.70,264.13 480.30,265.47 480.90,264.93 481.50,265.31 482.10,265.06 482.70,265.57 483.30,265.81 483.90,266.20 484.50,265.72 485.10,265.63 485.70,265.55 486.30,264.97 486.90,264.63 487.50,264.66 488.10,265.38 488.70,265.22 489.30,265.61 489.90,265.62 490.50,265.06 491.10,265.47 491.70,264.62 492.30,266.11 492.90,265.54 493.50,264.78 494.10,264.19 494.70,264.61 495.30,263.50 495.90,263.74 496.50,264.14 497.10,263.67 497.70,263.24 498.30,263.61 498.90,262.54 499.50,262.77 500.10,262.17 500.70,261.73 501.30,261.96 501.90,261.08 502.50,261.95 503.10,260.66 503.70,261.39 504.30,259.86 504.90,260.24 505.50,259.21 506.10,258.85 506.70,259.14 507.30,259.05 507.90,257.96 508.50,258.64 509.10,257.54 509.70,257.61 510.30,257.41 510.90,257.28 511.50,256.10 512.10,257.24 512.70,256.60 513.30,255.98" fill="none" stroke="#d4162c" stroke-width="1.6" stroke-linejoin="round"/>
<rect x="419.3" y="226.1" width="98.40" height="47.9" fill="none" stroke="#000" stroke-width="1.3"/>
<text x="421.92" y="236.00" font-size="11" stroke="#000" stroke-width="0.25" font-weight="bold" textLength="29.93" lengthAdjust="spacingAndGlyphs">H4Ac</text>
<line x1="420.80" y1="281.50" x2="516.70" y2="281.50" stroke="#6c6c6c" stroke-width="1" stroke-dasharray="1 1"/>
<line x1="420.80" y1="289.50" x2="516.70" y2="289.50" stroke="#6c6c6c" stroke-width="1" stroke-dasharray="1 1"/>
<line x1="420.80" y1="296.50" x2="516.70" y2="296.50" stroke="#6c6c6c" stroke-width="1" stroke-dasharray="1 1"/>
<line x1="420.80" y1="303.50" x2="516.70" y2="303.50" stroke="#6c6c6c" stroke-width="1" stroke-dasharray="1 1"/>
<line x1="420.80" y1="311.50" x2="516.70" y2="311.50" stroke="#6c6c6c" stroke-width="1" stroke-dasharray="1 1"/>
<line x1="420.80" y1="318.50" x2="516.70" y2="318.50" stroke="#6c6c6c" stroke-width="1" stroke-dasharray="1 1"/>
<line x1="424.50" y1="280.50" x2="424.50" y2="326.80" stroke="#6c6c6c" stroke-width="1" stroke-dasharray="1 1.5"/>
<line x1="454.50" y1="280.50" x2="454.50" y2="326.80" stroke="#6c6c6c" stroke-width="1" stroke-dasharray="1 1.5"/>
<line x1="484.50" y1="280.50" x2="484.50" y2="326.80" stroke="#6c6c6c" stroke-width="1" stroke-dasharray="1 1.5"/>
<line x1="513.50" y1="280.50" x2="513.50" y2="326.80" stroke="#6c6c6c" stroke-width="1" stroke-dasharray="1 1.5"/>
<line x1="415.30" y1="281.60" x2="419.30" y2="281.60" stroke="#000" stroke-width="1.5"/>
<text x="414.70" y="284.10" font-size="8.4" stroke="#000" stroke-width="0.25" font-weight="bold" text-anchor="end" textLength="17.00" lengthAdjust="spacingAndGlyphs">1.50</text>
<line x1="415.30" y1="289.02" x2="419.30" y2="289.02" stroke="#000" stroke-width="1.5"/>
<text x="414.70" y="291.52" font-size="8.4" stroke="#000" stroke-width="0.25" font-weight="bold" text-anchor="end" textLength="17.00" lengthAdjust="spacingAndGlyphs">1.25</text>
<line x1="415.30" y1="296.43" x2="419.30" y2="296.43" stroke="#000" stroke-width="1.5"/>
<text x="414.70" y="298.93" font-size="8.4" stroke="#000" stroke-width="0.25" font-weight="bold" text-anchor="end" textLength="17.00" lengthAdjust="spacingAndGlyphs">1.00</text>
<line x1="415.30" y1="303.85" x2="419.30" y2="303.85" stroke="#000" stroke-width="1.5"/>
<text x="414.70" y="306.35" font-size="8.4" stroke="#000" stroke-width="0.25" font-weight="bold" text-anchor="end" textLength="17.00" lengthAdjust="spacingAndGlyphs">0.75</text>
<line x1="415.30" y1="311.27" x2="419.30" y2="311.27" stroke="#000" stroke-width="1.5"/>
<text x="414.70" y="313.77" font-size="8.4" stroke="#000" stroke-width="0.25" font-weight="bold" text-anchor="end" textLength="17.00" lengthAdjust="spacingAndGlyphs">0.50</text>
<line x1="415.30" y1="318.68" x2="419.30" y2="318.68" stroke="#000" stroke-width="1.5"/>
<text x="414.70" y="321.18" font-size="8.4" stroke="#000" stroke-width="0.25" font-weight="bold" text-anchor="end" textLength="17.00" lengthAdjust="spacingAndGlyphs">0.25</text>
<line x1="415.30" y1="326.10" x2="419.30" y2="326.10" stroke="#000" stroke-width="1.5"/>
<text x="414.70" y="328.60" font-size="8.4" stroke="#000" stroke-width="0.25" font-weight="bold" text-anchor="end" textLength="17.00" lengthAdjust="spacingAndGlyphs">0.00</text>
<polyline points="423.90,319.49 424.50,319.32 425.10,319.56 425.70,320.42 426.30,320.17 426.90,319.96 427.50,320.30 428.10,321.24 428.70,320.58 429.30,320.58 429.90,321.42 430.50,320.92 431.10,320.61 431.70,320.21 432.30,319.69 432.90,319.70 433.50,319.83 434.10,319.79 434.70,319.88 435.30,319.82 435.90,319.58 436.50,319.55 437.10,319.02 437.70,318.53 438.30,319.16 438.90,318.95 439.50,319.04 440.10,319.16 440.70,318.74 441.30,318.77 441.90,319.28 442.50,319.53 443.10,319.40 443.70,320.03 444.30,319.92 444.90,319.77 445.50,320.37 446.10,321.28 446.70,320.43 447.30,321.34 447.90,321.55 448.50,321.72 449.10,320.92 449.70,322.18 450.30,321.54 450.90,321.51 451.50,321.64 452.10,322.10 452.70,322.19 453.30,322.50 453.90,323.48 454.50,323.08 455.10,323.35 455.70,324.22 456.30,324.18 456.90,324.34 457.50,323.47 458.10,324.33 458.70,324.09 459.30,324.64 459.90,323.63 460.50,324.42 461.10,324.42 461.70,324.10 462.30,324.65 462.90,325.58 463.50,325.11 464.10,325.15 464.70,325.93 465.30,326.13 465.90,326.27 466.50,325.59 467.10,325.88 467.70,326.32 468.30,325.65 468.90,325.62 469.50,326.26 470.10,326.55 470.70,325.47 471.30,324.90 471.90,325.36 472.50,325.54 473.10,325.90 473.70,326.20 474.30,325.90 474.90,325.68 475.50,326.03 476.10,325.59 476.70,325.96 477.30,325.72 477.90,327.06 478.50,326.32 479.10,325.66 479.70,325.60 480.30,325.82 480.90,325.33 481.50,325.68 482.10,325.67 482.70,326.31 483.30,325.77 483.90,325.62 484.50,325.39 485.10,325.44 485.70,325.88 486.30,325.68 486.90,325.94 487.50,324.96 488.10,325.35 488.70,324.85 489.30,325.05 489.90,324.55 490.50,325.13 491.10,326.20 491.70,326.46 492.30,325.99 492.90,326.21 493.50,325.75 494.10,325.76 494.70,325.65 495.30,326.31 495.90,326.06 496.50,325.83 497.10,325.80 497.70,326.15 498.30,326.06 498.90,325.60 499.50,326.62 500.10,326.04 500.70,325.95 501.30,326.54 501.90,326.36 502.50,325.91 503.10,326.17 503.70,325.53 504.30,325.70 504.90,325.06 505.50,326.45 506.10,325.21 506.70,326.24 507.30,325.64 507.90,325.58 508.50,325.90 509.10,326.09 509.70,326.23 510.30,326.69 510.90,326.13 511.50,326.34 512.10,325.75 512.70,326.28 513.30,326.06 513.90,325.81" fill="none" stroke="#d4162c" stroke-width="1.6" stroke-linejoin="round"/>
<rect x="419.3" y="279.9" width="98.40" height="47.9" fill="none" stroke="#000" stroke-width="1.3"/>
<text x="423.33" y="289.00" font-size="11" stroke="#000" stroke-width="0.25" font-weight="bold" textLength="24.37" lengthAdjust="spacingAndGlyphs">CBP</text>
<line x1="420.80" y1="333.50" x2="516.70" y2="333.50" stroke="#6c6c6c" stroke-width="1" stroke-dasharray="1 1"/>
<line x1="420.80" y1="340.50" x2="516.70" y2="340.50" stroke="#6c6c6c" stroke-width="1" stroke-dasharray="1 1"/>
<line x1="420.80" y1="348.50" x2="516.70" y2="348.50" stroke="#6c6c6c" stroke-width="1" stroke-dasharray="1 1"/>
<line x1="420.80" y1="355.50" x2="516.70" y2="355.50" stroke="#6c6c6c" stroke-width="1" stroke-dasharray="1 1"/>
<line x1="420.80" y1="362.50" x2="516.70" y2="362.50" stroke="#6c6c6c" stroke-width="1" stroke-dasharray="1 1"/>
<line x1="420.80" y1="370.50" x2="516.70" y2="370.50" stroke="#6c6c6c" stroke-width="1" stroke-dasharray="1 1"/>
<line x1="424.50" y1="332.50" x2="424.50" y2="378.40" stroke="#6c6c6c" stroke-width="1" stroke-dasharray="1 1.5"/>
<line x1="454.50" y1="332.50" x2="454.50" y2="378.40" stroke="#6c6c6c" stroke-width="1" stroke-dasharray="1 1.5"/>
<line x1="484.50" y1="332.50" x2="484.50" y2="378.40" stroke="#6c6c6c" stroke-width="1" stroke-dasharray="1 1.5"/>
<line x1="513.50" y1="332.50" x2="513.50" y2="378.40" stroke="#6c6c6c" stroke-width="1" stroke-dasharray="1 1.5"/>
<line x1="415.30" y1="333.20" x2="419.30" y2="333.20" stroke="#000" stroke-width="1.5"/>
<text x="414.70" y="335.70" font-size="8.4" stroke="#000" stroke-width="0.25" font-weight="bold" text-anchor="end" textLength="17.00" lengthAdjust="spacingAndGlyphs">1.50</text>
<line x1="415.30" y1="340.62" x2="419.30" y2="340.62" stroke="#000" stroke-width="1.5"/>
<text x="414.70" y="343.12" font-size="8.4" stroke="#000" stroke-width="0.25" font-weight="bold" text-anchor="end" textLength="17.00" lengthAdjust="spacingAndGlyphs">1.25</text>
<line x1="415.30" y1="348.03" x2="419.30" y2="348.03" stroke="#000" stroke-width="1.5"/>
<text x="414.70" y="350.53" font-size="8.4" stroke="#000" stroke-width="0.25" font-weight="bold" text-anchor="end" textLength="17.00" lengthAdjust="spacingAndGlyphs">1.00</text>
<line x1="415.30" y1="355.45" x2="419.30" y2="355.45" stroke="#000" stroke-width="1.5"/>
<text x="414.70" y="357.95" font-size="8.4" stroke="#000" stroke-width="0.25" font-weight="bold" text-anchor="end" textLength="17.00" lengthAdjust="spacingAndGlyphs">0.75</text>
<line x1="415.30" y1="362.87" x2="419.30" y2="362.87" stroke="#000" stroke-width="1.5"/>
<text x="414.70" y="365.37" font-size="8.4" stroke="#000" stroke-width="0.25" font-weight="bold" text-anchor="end" textLength="17.00" lengthAdjust="spacingAndGlyphs">0.50</text>
<line x1="415.30" y1="370.28" x2="419.30" y2="370.28" stroke="#000" stroke-width="1.5"/>
<text x="414.70" y="372.78" font-size="8.4" stroke="#000" stroke-width="0.25" font-weight="bold" text-anchor="end" textLength="17.00" lengthAdjust="spacingAndGlyphs">0.25</text>
<line x1="415.30" y1="377.70" x2="419.30" y2="377.70" stroke="#000" stroke-width="1.5"/>
<text x="414.70" y="380.20" font-size="8.4" stroke="#000" stroke-width="0.25" font-weight="bold" text-anchor="end" textLength="17.00" lengthAdjust="spacingAndGlyphs">0.00</text>
<polyline points="424.70,364.96 425.30,364.98 425.90,365.08 426.50,365.16 427.10,364.80 427.70,364.70 428.30,365.30 428.90,364.32 429.50,364.75 430.10,365.61 430.70,363.85 431.30,364.59 431.90,365.08 432.50,364.09 433.10,365.72 433.70,363.59 434.30,365.14 434.90,365.13 435.50,364.81 436.10,364.29 436.70,364.46 437.30,363.85 437.90,364.39 438.50,363.48 439.10,363.68 439.70,364.05 440.30,363.07 440.90,363.23 441.50,363.30 442.10,362.56 442.70,363.42 443.30,362.95 443.90,362.12 444.50,362.85 445.10,362.69 445.70,362.88 446.30,363.32 446.90,363.14 447.50,363.95 448.10,363.42 448.70,364.23 449.30,363.95 449.90,364.44 450.50,364.00 451.10,364.15 451.70,364.01 452.30,364.83 452.90,365.10 453.50,365.70 454.10,365.50 454.70,365.30 455.30,365.35 455.90,365.83 456.50,365.90 457.10,366.74 457.70,366.77 458.30,366.29 458.90,366.59 459.50,367.65 460.10,367.46 460.70,367.44 461.30,368.21 461.90,367.78 462.50,368.02 463.10,368.15 463.70,367.75 464.30,369.08 464.90,368.45 465.50,368.91 466.10,369.04 466.70,369.82 467.30,369.75 467.90,370.04 468.50,369.62 469.10,370.52 469.70,370.23 470.30,371.20 470.90,371.49 471.50,371.59 472.10,372.68 472.70,372.33 473.30,372.62 473.90,372.69 474.50,372.75 475.10,373.41 475.70,373.66 476.30,372.90 476.90,374.04 477.50,374.02 478.10,374.40 478.70,374.40 479.30,373.91 479.90,374.14 480.50,375.53 481.10,375.11 481.70,374.65 482.30,375.56 482.90,375.49 483.50,375.10 484.10,375.13 484.70,375.62 485.30,376.57 485.90,376.39 486.50,376.19 487.10,376.29 487.70,376.30 488.30,375.11 488.90,375.72 489.50,375.39 490.10,375.12 490.70,375.28 491.30,375.38 491.90,375.52 492.50,375.24 493.10,375.82 493.70,377.02 494.30,375.98 494.90,375.63 495.50,376.02 496.10,375.76 496.70,375.32 497.30,374.29 497.90,374.75 498.50,373.64 499.10,373.11 499.70,373.16 500.30,373.25 500.90,373.46 501.50,373.31 502.10,372.94 502.70,373.20 503.30,372.75 503.90,372.96 504.50,371.65 505.10,371.19 505.70,371.74 506.30,370.48 506.90,370.52 507.50,370.21 508.10,369.67 508.70,369.37 509.30,369.97 509.90,368.25 510.50,369.48 511.10,369.90 511.70,368.84 512.30,368.68 512.90,368.84" fill="none" stroke="#d4162c" stroke-width="1.6" stroke-linejoin="round"/>
<rect x="419.3" y="331.5" width="98.40" height="47.9" fill="none" stroke="#000" stroke-width="1.3"/>
<text x="423.84" y="341.40" font-size="11" stroke="#000" stroke-width="0.25" font-weight="bold" textLength="26.63" lengthAdjust="spacingAndGlyphs">P300</text>
<line x1="424.40" y1="379.40" x2="424.40" y2="383.40" stroke="#000" stroke-width="1.5"/>
<text x="424.40" y="390.00" font-size="8.2" stroke="#000" stroke-width="0.25" font-weight="bold" text-anchor="middle">-2</text>
<line x1="454.20" y1="379.40" x2="454.20" y2="383.40" stroke="#000" stroke-width="1.5"/>
<text x="454.20" y="390.00" font-size="8.2" stroke="#000" stroke-width="0.25" font-weight="bold" text-anchor="middle">-1</text>
<line x1="484.00" y1="379.40" x2="484.00" y2="383.40" stroke="#000" stroke-width="1.5"/>
<text x="484.00" y="390.00" font-size="8.2" stroke="#000" stroke-width="0.25" font-weight="bold" text-anchor="middle">0</text>
<line x1="513.80" y1="379.40" x2="513.80" y2="383.40" stroke="#000" stroke-width="1.5"/>
<text x="513.80" y="390.00" font-size="8.2" stroke="#000" stroke-width="0.25" font-weight="bold" text-anchor="middle">1</text>
<line x1="81.20" y1="335.00" x2="81.20" y2="229.10" stroke="#cfcfcf" stroke-width="0.8"/>
<line x1="116.80" y1="337.57" x2="116.80" y2="231.68" stroke="#cfcfcf" stroke-width="0.8"/>
<line x1="152.40" y1="340.15" x2="152.40" y2="234.25" stroke="#cfcfcf" stroke-width="0.8"/>
<line x1="188.00" y1="342.73" x2="188.00" y2="236.83" stroke="#cfcfcf" stroke-width="0.8"/>
<line x1="223.60" y1="345.30" x2="223.60" y2="239.40" stroke="#cfcfcf" stroke-width="0.8"/>
<line x1="81.20" y1="335.00" x2="223.60" y2="345.30" stroke="#cfcfcf" stroke-width="0.8"/>
<line x1="81.20" y1="299.70" x2="223.60" y2="310.00" stroke="#cfcfcf" stroke-width="0.8"/>
<line x1="81.20" y1="264.40" x2="223.60" y2="274.70" stroke="#cfcfcf" stroke-width="0.8"/>
<line x1="81.20" y1="229.10" x2="223.60" y2="239.40" stroke="#cfcfcf" stroke-width="0.8"/>
<line x1="81.20" y1="335.00" x2="81.20" y2="229.10" stroke="#cfcfcf" stroke-width="0.8"/>
<line x1="54.25" y1="347.50" x2="54.25" y2="241.60" stroke="#cfcfcf" stroke-width="0.8"/>
<line x1="27.30" y1="360.00" x2="27.30" y2="254.10" stroke="#cfcfcf" stroke-width="0.8"/>
<line x1="27.30" y1="360.00" x2="81.20" y2="335.00" stroke="#cfcfcf" stroke-width="0.8"/>
<line x1="27.30" y1="324.70" x2="81.20" y2="299.70" stroke="#cfcfcf" stroke-width="0.8"/>
<line x1="27.30" y1="289.40" x2="81.20" y2="264.40" stroke="#cfcfcf" stroke-width="0.8"/>
<line x1="27.30" y1="254.10" x2="81.20" y2="229.10" stroke="#cfcfcf" stroke-width="0.8"/>
<line x1="27.30" y1="360.00" x2="81.20" y2="335.00" stroke="#cfcfcf" stroke-width="0.8"/>
<line x1="62.90" y1="362.57" x2="116.80" y2="337.57" stroke="#cfcfcf" stroke-width="0.8"/>
<line x1="98.50" y1="365.15" x2="152.40" y2="340.15" stroke="#cfcfcf" stroke-width="0.8"/>
<line x1="134.10" y1="367.73" x2="188.00" y2="342.73" stroke="#cfcfcf" stroke-width="0.8"/>
<line x1="169.70" y1="370.30" x2="223.60" y2="345.30" stroke="#cfcfcf" stroke-width="0.8"/>
<line x1="81.20" y1="335.00" x2="223.60" y2="345.30" stroke="#cfcfcf" stroke-width="0.8"/>
<line x1="54.25" y1="347.50" x2="196.65" y2="357.80" stroke="#cfcfcf" stroke-width="0.8"/>
<line x1="27.30" y1="360.00" x2="169.70" y2="370.30" stroke="#cfcfcf" stroke-width="0.8"/>
<line x1="27.30" y1="360.00" x2="27.30" y2="254.10" stroke="#303030" stroke-width="1.1"/>
<line x1="27.30" y1="360.00" x2="169.70" y2="370.30" stroke="#303030" stroke-width="1.1"/>
<line x1="169.70" y1="370.30" x2="223.60" y2="345.30" stroke="#303030" stroke-width="1.1"/>
<line x1="24.10" y1="360.00" x2="27.30" y2="360.00" stroke="#303030" stroke-width="1.0"/>
<text x="22.90" y="362.00" font-size="5.5" stroke="#000" stroke-width="0.25" font-weight="bold" text-anchor="end">-0.5</text>
<line x1="24.10" y1="324.70" x2="27.30" y2="324.70" stroke="#303030" stroke-width="1.0"/>
<text x="22.90" y="326.70" font-size="5.5" stroke="#000" stroke-width="0.25" font-weight="bold" text-anchor="end">0</text>
<line x1="24.10" y1="289.40" x2="27.30" y2="289.40" stroke="#303030" stroke-width="1.0"/>
<text x="22.90" y="291.40" font-size="5.5" stroke="#000" stroke-width="0.25" font-weight="bold" text-anchor="end">0.5</text>
<line x1="24.10" y1="254.10" x2="27.30" y2="254.10" stroke="#303030" stroke-width="1.0"/>
<text x="22.90" y="256.10" font-size="5.5" stroke="#000" stroke-width="0.25" font-weight="bold" text-anchor="end">1</text>
<line x1="27.30" y1="360.00" x2="29.20" y2="359.10" stroke="#303030" stroke-width="0.9"/>
<text x="20.40" y="367.50" font-size="5.5" stroke="#000" stroke-width="0.25" font-weight="bold" text-anchor="middle">-1</text>
<line x1="62.90" y1="362.57" x2="64.80" y2="361.68" stroke="#303030" stroke-width="0.9"/>
<text x="54.75" y="370.00" font-size="5.5" stroke="#000" stroke-width="0.25" font-weight="bold" text-anchor="middle">-0.5</text>
<line x1="98.50" y1="365.15" x2="100.40" y2="364.25" stroke="#303030" stroke-width="0.9"/>
<text x="93.25" y="372.00" font-size="5.5" stroke="#000" stroke-width="0.25" font-weight="bold" text-anchor="middle">0</text>
<line x1="134.10" y1="367.73" x2="136.00" y2="366.83" stroke="#303030" stroke-width="0.9"/>
<text x="126.00" y="374.30" font-size="5.5" stroke="#000" stroke-width="0.25" font-weight="bold" text-anchor="middle">0.5</text>
<line x1="169.70" y1="370.30" x2="171.60" y2="369.40" stroke="#303030" stroke-width="0.9"/>
<text x="164.20" y="377.00" font-size="5.5" stroke="#000" stroke-width="0.25" font-weight="bold" text-anchor="middle">1</text>
<line x1="223.60" y1="345.30" x2="221.40" y2="345.10" stroke="#303030" stroke-width="0.9"/>
<text x="227.20" y="350.90" font-size="5.5" stroke="#000" stroke-width="0.25" font-weight="bold">-0.5</text>
<line x1="196.65" y1="357.80" x2="194.45" y2="357.60" stroke="#303030" stroke-width="0.9"/>
<text x="200.25" y="363.40" font-size="5.5" stroke="#000" stroke-width="0.25" font-weight="bold">0</text>
<line x1="169.70" y1="370.30" x2="167.50" y2="370.10" stroke="#303030" stroke-width="0.9"/>
<text x="173.30" y="375.90" font-size="5.5" stroke="#000" stroke-width="0.25" font-weight="bold">0.5</text>
<text x="28.70" y="241.80" font-size="10" stroke="#000" stroke-width="0.25" font-weight="bold" textLength="18.80" lengthAdjust="spacingAndGlyphs">PC3</text>
<text x="76.20" y="382.50" font-size="10.5" stroke="#000" stroke-width="0.25" font-weight="bold" textLength="20.00" lengthAdjust="spacingAndGlyphs">PC2</text>
<text x="202.20" y="376.30" font-size="10.5" stroke="#000" stroke-width="0.25" font-weight="bold" textLength="19.00" lengthAdjust="spacingAndGlyphs">PC1</text>
<ellipse cx="84.6" cy="299.1" rx="23.6" ry="15.0" transform="rotate(-4 84.6 299.1)" fill="none" stroke="#000" stroke-width="1.7" stroke-dasharray="4.6 2.8"/>
<ellipse cx="143.1" cy="328.6" rx="34.2" ry="18.8" transform="rotate(-35 143.1 328.6)" fill="none" stroke="#000" stroke-width="1.7" stroke-dasharray="4.6 2.8"/>
<circle cx="161.6" cy="251.6" r="3.4" fill="#c8ec30"/>
<circle cx="72.4" cy="299.0" r="3.4" fill="#12128c"/>
<circle cx="80.4" cy="307.9" r="3.4" fill="#22d8f2"/>
<circle cx="94.4" cy="324.5" r="3.4" fill="#8a0c0c"/>
<circle cx="124.1" cy="343.6" r="3.4" fill="#3ceab4"/>
<circle cx="132.2" cy="329.8" r="3.4" fill="#f2ee1a"/>
<circle cx="150.1" cy="324.2" r="3.4" fill="#40e08c"/>
<text x="162.90" y="250.40" font-size="6.2" stroke="#000" stroke-width="0.1" font-weight="bold">H3K27m3</text>
<text x="72.90" y="297.60" font-size="6.2" stroke="#000" stroke-width="0.1" font-weight="bold">H3K4me3</text>
<text x="80.60" y="306.80" font-size="6.2" stroke="#000" stroke-width="0.1" font-weight="bold">H3Ac</text>
<text x="95.80" y="323.40" font-size="6.2" stroke="#000" stroke-width="0.1" font-weight="bold">H4Ac</text>
<text x="125.40" y="341.60" font-size="6.2" stroke="#000" stroke-width="0.1" font-weight="bold">H3K4me1</text>
<text x="133.60" y="329.00" font-size="6.2" stroke="#000" stroke-width="0.1" font-weight="bold">P300</text>
<text x="151.00" y="322.90" font-size="6.2" stroke="#000" stroke-width="0.1" font-weight="bold">CBP</text>
</svg>
</body></html>
